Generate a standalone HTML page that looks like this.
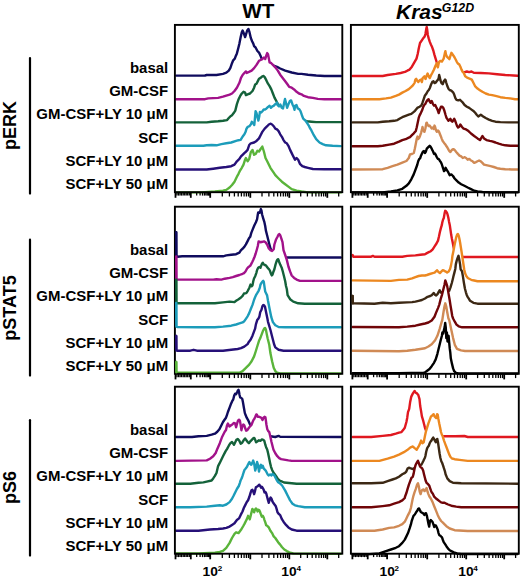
<!DOCTYPE html><html><head><meta charset="utf-8"><title>figure</title><style>html,body{margin:0;padding:0;background:#fff;width:520px;height:578px;overflow:hidden}svg{display:block}text{font-family:"Liberation Sans", sans-serif;font-weight:bold;fill:#000}</style></head><body>
<svg width="520" height="578" viewBox="0 0 520 578">
<text transform="translate(258.3,18.3) scale(1.045,1)" font-size="19.75" text-anchor="middle">WT</text>
<text transform="translate(396.0,18.5) scale(1.05,1)" font-size="20" font-style="italic">Kras</text>
<text transform="translate(441.8,11.6) scale(1.03,1)" font-size="12" font-style="italic">G12D</text>
<line x1="30" y1="58.1" x2="30" y2="193.6" stroke="#000" stroke-width="2.2" stroke-linecap="round"/>
<text transform="translate(16.4,125.5) rotate(-90)" font-size="18" text-anchor="middle">pERK</text>
<line x1="30" y1="239.7" x2="30" y2="375.6" stroke="#000" stroke-width="2.2" stroke-linecap="round"/>
<text transform="translate(16.4,308) rotate(-90)" font-size="18" text-anchor="middle">pSTAT5</text>
<line x1="30" y1="420.2" x2="30" y2="555.6" stroke="#000" stroke-width="2.2" stroke-linecap="round"/>
<text transform="translate(16.4,487.5) rotate(-90)" font-size="18" text-anchor="middle">pS6</text>
<text transform="translate(168.2,72.8) scale(1.07,1)" font-size="14" text-anchor="end">basal</text>
<text transform="translate(168.2,96.1) scale(1.07,1)" font-size="14" text-anchor="end">GM-CSF</text>
<text transform="translate(168.2,119.4) scale(1.07,1)" font-size="14" text-anchor="end">GM-CSF+LY 10 μM</text>
<text transform="translate(168.2,142.7) scale(1.07,1)" font-size="14" text-anchor="end">SCF</text>
<text transform="translate(168.2,166.0) scale(1.07,1)" font-size="14" text-anchor="end">SCF+LY 10 μM</text>
<text transform="translate(168.2,189.3) scale(1.07,1)" font-size="14" text-anchor="end">SCF+LY 50 μM</text>
<text transform="translate(168.2,254.8) scale(1.07,1)" font-size="14" text-anchor="end">basal</text>
<text transform="translate(168.2,278.1) scale(1.07,1)" font-size="14" text-anchor="end">GM-CSF</text>
<text transform="translate(168.2,301.4) scale(1.07,1)" font-size="14" text-anchor="end">GM-CSF+LY 10 μM</text>
<text transform="translate(168.2,324.7) scale(1.07,1)" font-size="14" text-anchor="end">SCF</text>
<text transform="translate(168.2,348.0) scale(1.07,1)" font-size="14" text-anchor="end">SCF+LY 10 μM</text>
<text transform="translate(168.2,371.3) scale(1.07,1)" font-size="14" text-anchor="end">SCF+LY 50 μM</text>
<text transform="translate(168.2,434.8) scale(1.07,1)" font-size="14" text-anchor="end">basal</text>
<text transform="translate(168.2,458.1) scale(1.07,1)" font-size="14" text-anchor="end">GM-CSF</text>
<text transform="translate(168.2,481.4) scale(1.07,1)" font-size="14" text-anchor="end">GM-CSF+LY 10 μM</text>
<text transform="translate(168.2,504.7) scale(1.07,1)" font-size="14" text-anchor="end">SCF</text>
<text transform="translate(168.2,528.0) scale(1.07,1)" font-size="14" text-anchor="end">SCF+LY 10 μM</text>
<text transform="translate(168.2,551.3) scale(1.07,1)" font-size="14" text-anchor="end">SCF+LY 50 μM</text>
<g transform="translate(174,24)" stroke-width="2.4" stroke-linejoin="round" stroke-linecap="round"><path d="M2.2,51.6 L16.3,51.6 L31,51.5 L32.7,51 L42.5,51 L49,49.9 L52.3,48.7 L54.8,46.6 L56.4,43.8 L58,39.2 L59.2,36.3 L60.8,34.7 L61.8,31.9 L62.9,29.4 L64.2,24.5 L65.4,19.6 L66.7,13.1 L67.8,8.2 L68.6,6.5 L70,9.8 L71.1,13.1 L71.9,10.6 L73.2,6.5 L74.4,4.9 L75.5,8.2 L76.8,13.9 L78.1,17.2 L79.3,19.6 L80.1,22.1 L81.7,23.7 L83.4,27 L85,28.6 L86.6,31.9 L87.5,34.3 L92,37 L96,40 L99.7,41.7 L103,42.8 L106.2,44.5 L111.2,46.6 L117.7,48.5 L124.2,49.9 L127.5,49.9 L134,50.7 L142.2,51.5 L150.4,52 L166.8,52 L166.8,52.8 L2.2,52.8 Z" fill="#fff"/><path d="M2.2,51.6 L16.3,51.6 L31,51.5 L32.7,51 L42.5,51 L49,49.9 L52.3,48.7 L54.8,46.6 L56.4,43.8 L58,39.2 L59.2,36.3 L60.8,34.7 L61.8,31.9 L62.9,29.4 L64.2,24.5 L65.4,19.6 L66.7,13.1 L67.8,8.2 L68.6,6.5 L70,9.8 L71.1,13.1 L71.9,10.6 L73.2,6.5 L74.4,4.9 L75.5,8.2 L76.8,13.9 L78.1,17.2 L79.3,19.6 L80.1,22.1 L81.7,23.7 L83.4,27 L85,28.6 L86.6,31.9 L87.5,34.3 L92,37 L96,40 L99.7,41.7 L103,42.8 L106.2,44.5 L111.2,46.6 L117.7,48.5 L124.2,49.9 L127.5,49.9 L134,50.7 L142.2,51.5 L150.4,52 L166.8,52" fill="none" stroke="#100c5e"/><path d="M2.2,75.2 L31,75.2 L34.3,74.4 L44.1,73.9 L49,72.7 L52.3,71.6 L55.6,70.6 L58,69.5 L60.5,67 L62.9,63.7 L65.4,58.8 L67,53.9 L68.6,51 L70.3,49 L71.9,47.4 L72.7,49 L74.4,48.2 L76,47.4 L77.6,46.6 L80.1,44.1 L82.5,40.9 L85,36.8 L86.6,36 L88.3,35.1 L89.9,33.5 L91.2,35.1 L92.4,31.1 L93.2,29.1 L94,30.2 L94.8,34.3 L95.6,38.4 L97.3,39.2 L98.9,40.9 L101.3,43.3 L103.8,46.6 L106.2,50.7 L108.7,53.9 L111.2,57.2 L113.6,60.5 L115.2,62.9 L117.7,63.7 L120.1,65.4 L122.6,67.8 L125,69.5 L127.5,70.3 L129.9,71.9 L134,73.2 L138.9,73.9 L143.8,74.9 L150.4,75.2 L166.8,75.2 L166.8,76 L2.2,76 Z" fill="#fff"/><path d="M2.2,75.2 L31,75.2 L34.3,74.4 L44.1,73.9 L49,72.7 L52.3,71.6 L55.6,70.6 L58,69.5 L60.5,67 L62.9,63.7 L65.4,58.8 L67,53.9 L68.6,51 L70.3,49 L71.9,47.4 L72.7,49 L74.4,48.2 L76,47.4 L77.6,46.6 L80.1,44.1 L82.5,40.9 L85,36.8 L86.6,36 L88.3,35.1 L89.9,33.5 L91.2,35.1 L92.4,31.1 L93.2,29.1 L94,30.2 L94.8,34.3 L95.6,38.4 L97.3,39.2 L98.9,40.9 L101.3,43.3 L103.8,46.6 L106.2,50.7 L108.7,53.9 L111.2,57.2 L113.6,60.5 L115.2,62.9 L117.7,63.7 L120.1,65.4 L122.6,67.8 L125,69.5 L127.5,70.3 L129.9,71.9 L134,73.2 L138.9,73.9 L143.8,74.9 L150.4,75.2 L166.8,75.2" fill="none" stroke="#a2128a"/><path d="M2.2,98.4 L32.7,98.4 L37.6,97.7 L44.1,97.3 L49,96.8 L53.1,96.1 L54.8,94 L56.4,92.4 L58,91.2 L59.7,89.1 L61.3,86.6 L62.9,80.1 L64.6,75.2 L66.2,71.9 L67.8,69.5 L69.5,67.8 L71.1,68.6 L71.9,71.1 L73.6,70.3 L76,69.5 L78.5,67 L80.1,63.7 L81.2,60.5 L82.5,59.7 L84.2,56.4 L85,54.8 L86.6,53.9 L88.3,52.3 L89.6,52 L90.7,53.1 L92.4,56.4 L94,59.7 L95.6,62.1 L97.3,65.4 L98.9,69.5 L100.5,73.6 L102.2,76.8 L103.8,80.1 L107,86 L112,91 L118,94 L125,96 L133.2,97.3 L137.3,97.7 L142.2,98.1 L150.4,98.1 L166.8,98.1 L166.8,98.9 L2.2,98.9 Z" fill="#fff"/><path d="M2.2,98.4 L32.7,98.4 L37.6,97.7 L44.1,97.3 L49,96.8 L53.1,96.1 L54.8,94 L56.4,92.4 L58,91.2 L59.7,89.1 L61.3,86.6 L62.9,80.1 L64.6,75.2 L66.2,71.9 L67.8,69.5 L69.5,67.8 L71.1,68.6 L71.9,71.1 L73.6,70.3 L76,69.5 L78.5,67 L80.1,63.7 L81.2,60.5 L82.5,59.7 L84.2,56.4 L85,54.8 L86.6,53.9 L88.3,52.3 L89.6,52 L90.7,53.1 L92.4,56.4 L94,59.7 L95.6,62.1 L97.3,65.4 L98.9,69.5 L100.5,73.6 L102.2,76.8 L103.8,80.1 L107,86 L112,91 L118,94 L125,96 L133.2,97.3 L137.3,97.7 L142.2,98.1 L150.4,98.1 L166.8,98.1" fill="none" stroke="#14623a"/><path d="M2.2,121.8 L29.4,121.8 L32.7,121.3 L37.6,121 L42.5,121.3 L47.4,120.1 L52.3,119.3 L57.2,118.5 L62.1,116.9 L64.5,116.2 L66.6,115.9 L68.5,112.8 L70.4,110.3 L71.6,107.8 L72.5,104.7 L73.8,102.8 L75.4,102.2 L76.9,100.3 L77.8,97.8 L79.1,99.1 L80.3,101 L81,93.5 L81.6,87.2 L82.5,89.1 L83.5,93.5 L84.4,96.6 L85.3,92.2 L85.9,87.9 L87.2,88.5 L88.4,87.2 L89.7,85.5 L91,85.5 L92.3,84.7 L94.1,82.9 L95.6,81.8 L96.9,83.8 L98.3,82.4 L99.6,81.8 L101,80.4 L102.3,79.7 L103,78.4 L103.6,81.1 L105,82.4 L106.3,80.4 L107.7,83.8 L109,84.5 L110.4,77.7 L111,75 L111.7,77.7 L113.1,83.8 L114.4,80.4 L115.8,77.1 L117.1,76.4 L118.5,80.4 L119.8,83.1 L120.5,85.8 L121.1,81.8 L122.5,81.1 L123.8,84.5 L125.2,85.1 L126.5,87.1 L127.9,91.2 L129.2,94.6 L130.6,95.9 L131.9,97.3 L133.3,99.3 L134.6,101.3 L135.9,104 L137.3,106.2 L139.8,111.2 L142.2,115.2 L145.5,118.5 L148.7,120.1 L152,121.3 L158.6,121.8 L166.8,122.1 L166.8,122.9 L2.2,122.9 Z" fill="#fff"/><path d="M2.2,121.8 L29.4,121.8 L32.7,121.3 L37.6,121 L42.5,121.3 L47.4,120.1 L52.3,119.3 L57.2,118.5 L62.1,116.9 L64.5,116.2 L66.6,115.9 L68.5,112.8 L70.4,110.3 L71.6,107.8 L72.5,104.7 L73.8,102.8 L75.4,102.2 L76.9,100.3 L77.8,97.8 L79.1,99.1 L80.3,101 L81,93.5 L81.6,87.2 L82.5,89.1 L83.5,93.5 L84.4,96.6 L85.3,92.2 L85.9,87.9 L87.2,88.5 L88.4,87.2 L89.7,85.5 L91,85.5 L92.3,84.7 L94.1,82.9 L95.6,81.8 L96.9,83.8 L98.3,82.4 L99.6,81.8 L101,80.4 L102.3,79.7 L103,78.4 L103.6,81.1 L105,82.4 L106.3,80.4 L107.7,83.8 L109,84.5 L110.4,77.7 L111,75 L111.7,77.7 L113.1,83.8 L114.4,80.4 L115.8,77.1 L117.1,76.4 L118.5,80.4 L119.8,83.1 L120.5,85.8 L121.1,81.8 L122.5,81.1 L123.8,84.5 L125.2,85.1 L126.5,87.1 L127.9,91.2 L129.2,94.6 L130.6,95.9 L131.9,97.3 L133.3,99.3 L134.6,101.3 L135.9,104 L137.3,106.2 L139.8,111.2 L142.2,115.2 L145.5,118.5 L148.7,120.1 L152,121.3 L158.6,121.8 L166.8,122.1" fill="none" stroke="#1c9cba"/><path d="M2.2,145.5 L32.7,145.5 L39.2,144.7 L45.8,143.8 L52.3,143 L57.2,142.2 L60.5,140.6 L62.9,137.3 L65.4,134.9 L67,132.4 L68.6,130.8 L70.3,129.1 L71.9,127.8 L73.6,125.9 L75.2,121 L76.8,119.3 L80.1,118.5 L82.5,116.9 L85,114.4 L86.6,111.2 L88.3,107.9 L90.7,104.6 L93.2,102.2 L94.8,100.5 L96.4,99.7 L98.1,100.5 L99.7,102.2 L101.3,104.6 L103,105.4 L104.6,107.1 L106.2,110.3 L107.9,112.8 L109.5,116.1 L111.2,118.5 L112.8,119.3 L114.4,121.8 L116.1,125.9 L117.7,129.1 L119.3,132.4 L121,135.7 L122.6,134 L124.2,135.7 L125.9,139.8 L128.3,142.2 L130.8,143 L134,143.8 L138.9,145 L150.4,145.2 L166.8,145.2 L166.8,146 L2.2,146 Z" fill="#fff"/><path d="M2.2,145.5 L32.7,145.5 L39.2,144.7 L45.8,143.8 L52.3,143 L57.2,142.2 L60.5,140.6 L62.9,137.3 L65.4,134.9 L67,132.4 L68.6,130.8 L70.3,129.1 L71.9,127.8 L73.6,125.9 L75.2,121 L76.8,119.3 L80.1,118.5 L82.5,116.9 L85,114.4 L86.6,111.2 L88.3,107.9 L90.7,104.6 L93.2,102.2 L94.8,100.5 L96.4,99.7 L98.1,100.5 L99.7,102.2 L101.3,104.6 L103,105.4 L104.6,107.1 L106.2,110.3 L107.9,112.8 L109.5,116.1 L111.2,118.5 L112.8,119.3 L114.4,121.8 L116.1,125.9 L117.7,129.1 L119.3,132.4 L121,135.7 L122.6,134 L124.2,135.7 L125.9,139.8 L128.3,142.2 L130.8,143 L134,143.8 L138.9,145 L150.4,145.2 L166.8,145.2" fill="none" stroke="#261078"/><path d="M2.2,168.4 L27.8,168.4 L40.9,167.5 L49,166.7 L52.3,165.9 L55.6,163.5 L58,161 L60.5,157.7 L62.9,152.8 L64.6,149.6 L66.2,146.3 L67.8,143.8 L69.5,140.6 L71.1,135.7 L71.9,134 L73.6,137.3 L75.2,134.9 L76.8,128.3 L78.5,125.9 L80.1,130.8 L81.7,130 L83.4,126.7 L85,127.5 L86.6,125 L88.3,122.6 L89.9,127.5 L91.5,134 L93.2,137.3 L94.8,140.6 L96.4,143.8 L98.1,146.3 L99.7,148.7 L101.3,151.2 L104.6,154.5 L107.9,157.7 L111.2,160.2 L114.4,162.6 L117.7,165.1 L122.6,166.7 L127.5,167.5 L134,168.4 L166.8,168.4 L166.8,169.2 L2.2,169.2 Z" fill="#fff"/><path d="M2.2,168.4 L27.8,168.4 L40.9,167.5 L49,166.7 L52.3,165.9 L55.6,163.5 L58,161 L60.5,157.7 L62.9,152.8 L64.6,149.6 L66.2,146.3 L67.8,143.8 L69.5,140.6 L71.1,135.7 L71.9,134 L73.6,137.3 L75.2,134.9 L76.8,128.3 L78.5,125.9 L80.1,130.8 L81.7,130 L83.4,126.7 L85,127.5 L86.6,125 L88.3,122.6 L89.9,127.5 L91.5,134 L93.2,137.3 L94.8,140.6 L96.4,143.8 L98.1,146.3 L99.7,148.7 L101.3,151.2 L104.6,154.5 L107.9,157.7 L111.2,160.2 L114.4,162.6 L117.7,165.1 L122.6,166.7 L127.5,167.5 L134,168.4 L166.8,168.4" fill="none" stroke="#5ab43a"/></g>
<rect x="174.9" y="24.9" width="167.4" height="167.3" fill="none" stroke="#000" stroke-width="1.9"/>
<g stroke="#000" stroke-width="1.3"><line x1="175.5" y1="192.2" x2="175.5" y2="197.8" stroke-width="1.8"/><line x1="190.8" y1="192.2" x2="190.8" y2="197.8" stroke-width="1.8"/><line x1="210.2" y1="192.2" x2="210.2" y2="197.8" stroke-width="1.8"/><line x1="250.3" y1="192.2" x2="250.3" y2="197.8" stroke-width="1.8"/><line x1="289.3" y1="192.2" x2="289.3" y2="197.8" stroke-width="1.8"/><line x1="327.3" y1="192.2" x2="327.3" y2="197.8" stroke-width="1.8"/><line x1="222.3" y1="192.2" x2="222.3" y2="196.5"/><line x1="229.4" y1="192.2" x2="229.4" y2="196.5"/><line x1="234.4" y1="192.2" x2="234.4" y2="196.5"/><line x1="238.2" y1="192.2" x2="238.2" y2="196.5"/><line x1="241.4" y1="192.2" x2="241.4" y2="196.5"/><line x1="244.1" y1="192.2" x2="244.1" y2="196.5"/><line x1="246.4" y1="192.2" x2="246.4" y2="196.5"/><line x1="248.5" y1="192.2" x2="248.5" y2="196.5"/><line x1="262.0" y1="192.2" x2="262.0" y2="196.5"/><line x1="268.9" y1="192.2" x2="268.9" y2="196.5"/><line x1="273.8" y1="192.2" x2="273.8" y2="196.5"/><line x1="277.6" y1="192.2" x2="277.6" y2="196.5"/><line x1="280.6" y1="192.2" x2="280.6" y2="196.5"/><line x1="283.3" y1="192.2" x2="283.3" y2="196.5"/><line x1="285.5" y1="192.2" x2="285.5" y2="196.5"/><line x1="287.5" y1="192.2" x2="287.5" y2="196.5"/><line x1="300.7" y1="192.2" x2="300.7" y2="196.5"/><line x1="307.4" y1="192.2" x2="307.4" y2="196.5"/><line x1="312.2" y1="192.2" x2="312.2" y2="196.5"/><line x1="315.9" y1="192.2" x2="315.9" y2="196.5"/><line x1="318.9" y1="192.2" x2="318.9" y2="196.5"/><line x1="321.4" y1="192.2" x2="321.4" y2="196.5"/><line x1="323.6" y1="192.2" x2="323.6" y2="196.5"/><line x1="325.6" y1="192.2" x2="325.6" y2="196.5"/><line x1="338.7" y1="192.2" x2="338.7" y2="196.5"/><line x1="177.0" y1="192.2" x2="177.0" y2="195.6"/><line x1="178.6" y1="192.2" x2="178.6" y2="195.6"/><line x1="180.1" y1="192.2" x2="180.1" y2="195.6"/><line x1="181.6" y1="192.2" x2="181.6" y2="195.6"/><line x1="183.2" y1="192.2" x2="183.2" y2="195.6"/><line x1="184.7" y1="192.2" x2="184.7" y2="195.6"/><line x1="186.2" y1="192.2" x2="186.2" y2="195.6"/><line x1="187.7" y1="192.2" x2="187.7" y2="195.6"/><line x1="189.3" y1="192.2" x2="189.3" y2="195.6"/><line x1="196.7" y1="192.2" x2="196.7" y2="195.6"/><line x1="200.1" y1="192.2" x2="200.1" y2="195.6"/><line x1="202.5" y1="192.2" x2="202.5" y2="195.6"/><line x1="204.4" y1="192.2" x2="204.4" y2="195.6"/><line x1="205.9" y1="192.2" x2="205.9" y2="195.6"/><line x1="207.2" y1="192.2" x2="207.2" y2="195.6"/><line x1="208.4" y1="192.2" x2="208.4" y2="195.6"/><line x1="209.4" y1="192.2" x2="209.4" y2="195.6"/></g>
<g transform="translate(350,24)" stroke-width="2.4" stroke-linejoin="round" stroke-linecap="round"><path d="M2.6,52 L32.7,52 L37.6,51 L45.8,49.9 L50.7,49 L53.9,48.2 L55,47.9 L57.3,46.7 L59.6,45.6 L61.9,42.7 L64.2,38.7 L66.5,34.6 L67.7,30 L68.8,24.2 L70,19 L71.2,17.3 L72.3,15.6 L73.5,13.8 L74.6,12.7 L75.5,9.8 L76.3,4.6 L76.7,2.9 L77.2,5.8 L77.8,11 L78.7,14.4 L79.8,17.9 L81,20.8 L82.1,23.1 L83.3,26.5 L84.4,30.6 L85.6,34.6 L86.7,38.1 L87.9,41.5 L95,46 L105,48 L112.9,48.7 L114.6,48.1 L116.9,47.5 L119.2,48.1 L121.5,47.5 L123.8,48.7 L130.8,49 L138.9,49.4 L147.1,50.2 L155.3,51 L163.5,51.5 L167.6,51.8 L167.6,52.6 L2.6,52.6 Z" fill="#fff"/><path d="M2.6,52 L32.7,52 L37.6,51 L45.8,49.9 L50.7,49 L53.9,48.2 L55,47.9 L57.3,46.7 L59.6,45.6 L61.9,42.7 L64.2,38.7 L66.5,34.6 L67.7,30 L68.8,24.2 L70,19 L71.2,17.3 L72.3,15.6 L73.5,13.8 L74.6,12.7 L75.5,9.8 L76.3,4.6 L76.7,2.9 L77.2,5.8 L77.8,11 L78.7,14.4 L79.8,17.9 L81,20.8 L82.1,23.1 L83.3,26.5 L84.4,30.6 L85.6,34.6 L86.7,38.1 L87.9,41.5 L95,46 L105,48 L112.9,48.7 L114.6,48.1 L116.9,47.5 L119.2,48.1 L121.5,47.5 L123.8,48.7 L130.8,49 L138.9,49.4 L147.1,50.2 L155.3,51 L163.5,51.5 L167.6,51.8" fill="none" stroke="#e01820"/><path d="M2.6,75.2 L29.4,75.2 L36,74.4 L40.9,73.6 L45.8,71.9 L49,70.6 L52.3,68.6 L55.6,67 L58.8,65.1 L61.3,62.9 L62.9,61.3 L64.6,58.8 L65.4,55.6 L66.2,54.8 L67,56.4 L68.3,58 L69.5,56.4 L71.1,55.6 L71.9,58 L72.7,54 L74.4,52.3 L75.5,55 L76.5,52 L77.6,49.5 L78.8,52.5 L79.8,54 L80.9,51.5 L82.5,48.5 L84,45.5 L85.6,41.5 L86.7,39.2 L87.9,43.3 L89,38.1 L90.2,36.9 L91.9,37.5 L93.7,34.6 L94.8,29.4 L95.4,27.1 L96,30.6 L97.1,32.9 L98.3,34 L99.4,35.2 L100.6,31.2 L101.4,28.8 L102.3,30 L103.5,31.7 L104.6,33.5 L105.8,35.8 L106.9,38.1 L108.1,39.8 L109.2,40.4 L110.4,42.7 L111.5,45.6 L112.7,47.9 L113.8,49 L115.2,52.3 L117.7,53.9 L120.1,54.8 L121.8,55.6 L123.4,58.8 L125,62.1 L127.5,64.6 L129.9,66.2 L132.4,67.8 L135.7,69.5 L138.9,70.6 L142.2,71.1 L145.5,71.9 L150.4,73.2 L155.3,73.9 L160.2,74.4 L165.1,75.2 L167.6,75.2 L167.6,76 L2.6,76 Z" fill="#fff"/><path d="M2.6,75.2 L29.4,75.2 L36,74.4 L40.9,73.6 L45.8,71.9 L49,70.6 L52.3,68.6 L55.6,67 L58.8,65.1 L61.3,62.9 L62.9,61.3 L64.6,58.8 L65.4,55.6 L66.2,54.8 L67,56.4 L68.3,58 L69.5,56.4 L71.1,55.6 L71.9,58 L72.7,54 L74.4,52.3 L75.5,55 L76.5,52 L77.6,49.5 L78.8,52.5 L79.8,54 L80.9,51.5 L82.5,48.5 L84,45.5 L85.6,41.5 L86.7,39.2 L87.9,43.3 L89,38.1 L90.2,36.9 L91.9,37.5 L93.7,34.6 L94.8,29.4 L95.4,27.1 L96,30.6 L97.1,32.9 L98.3,34 L99.4,35.2 L100.6,31.2 L101.4,28.8 L102.3,30 L103.5,31.7 L104.6,33.5 L105.8,35.8 L106.9,38.1 L108.1,39.8 L109.2,40.4 L110.4,42.7 L111.5,45.6 L112.7,47.9 L113.8,49 L115.2,52.3 L117.7,53.9 L120.1,54.8 L121.8,55.6 L123.4,58.8 L125,62.1 L127.5,64.6 L129.9,66.2 L132.4,67.8 L135.7,69.5 L138.9,70.6 L142.2,71.1 L145.5,71.9 L150.4,73.2 L155.3,73.9 L160.2,74.4 L165.1,75.2 L167.6,75.2" fill="none" stroke="#ec8820"/><path d="M2.6,98.4 L27.8,98.4 L32.7,97.7 L39.2,97.3 L44.1,96.8 L47.4,96.1 L49.9,94.5 L52.3,93.2 L55.6,91.9 L58.8,90.7 L61.3,89.9 L62.9,88.6 L65,86.8 L67.3,83.9 L69.6,82.7 L71.3,81.6 L72.5,78.7 L73.7,75.2 L74.8,71.8 L76.5,69.5 L77.7,67.2 L78.8,66 L80,63.7 L81.2,60.2 L82.3,57.9 L83.5,57.3 L84.6,59.1 L85.8,58.5 L86.9,56.8 L88.1,55.6 L88.7,53.9 L89.2,51 L89.8,53.3 L90.4,56.2 L91.5,59.1 L92.7,60.2 L93.8,57.3 L95,55.6 L95.6,56.2 L96.2,58.5 L97.3,62 L98.5,64.8 L99.6,66 L101.3,66.6 L103.1,68.3 L104.2,70.6 L105.4,74.1 L106.5,75.8 L108.3,76.4 L110,75.8 L111.2,77 L112.9,78.7 L114.6,81 L116.9,82.7 L119.2,83.9 L121.5,85.6 L123.8,87.3 L125,88.5 L126.7,90.7 L128.3,92.4 L130.8,90.7 L133.2,92.4 L135.7,94 L138.9,95.6 L142.2,96.8 L145.5,97.7 L150.4,98.1 L158.6,98.4 L167.6,98.4 L167.6,99.2 L2.6,99.2 Z" fill="#fff"/><path d="M2.6,98.4 L27.8,98.4 L32.7,97.7 L39.2,97.3 L44.1,96.8 L47.4,96.1 L49.9,94.5 L52.3,93.2 L55.6,91.9 L58.8,90.7 L61.3,89.9 L62.9,88.6 L65,86.8 L67.3,83.9 L69.6,82.7 L71.3,81.6 L72.5,78.7 L73.7,75.2 L74.8,71.8 L76.5,69.5 L77.7,67.2 L78.8,66 L80,63.7 L81.2,60.2 L82.3,57.9 L83.5,57.3 L84.6,59.1 L85.8,58.5 L86.9,56.8 L88.1,55.6 L88.7,53.9 L89.2,51 L89.8,53.3 L90.4,56.2 L91.5,59.1 L92.7,60.2 L93.8,57.3 L95,55.6 L95.6,56.2 L96.2,58.5 L97.3,62 L98.5,64.8 L99.6,66 L101.3,66.6 L103.1,68.3 L104.2,70.6 L105.4,74.1 L106.5,75.8 L108.3,76.4 L110,75.8 L111.2,77 L112.9,78.7 L114.6,81 L116.9,82.7 L119.2,83.9 L121.5,85.6 L123.8,87.3 L125,88.5 L126.7,90.7 L128.3,92.4 L130.8,90.7 L133.2,92.4 L135.7,94 L138.9,95.6 L142.2,96.8 L145.5,97.7 L150.4,98.1 L158.6,98.4 L167.6,98.4" fill="none" stroke="#3c2814"/><path d="M2.6,122.3 L27.8,122.3 L32.7,121.8 L39.2,120.6 L44.1,119.7 L49,117.7 L52.3,116.1 L55.6,115.2 L58.8,113.6 L60,113.1 L61.9,111.2 L63.8,109.3 L65.8,106.9 L66.7,103.5 L67.7,98.7 L68.7,93.9 L69.6,91.4 L70.8,89.1 L71.9,86.8 L73.1,83.3 L74.2,81 L75.4,79.8 L76.5,77.5 L77.7,75.8 L78.6,75.2 L79.4,77 L80.6,78.7 L81.7,77 L82.9,79.8 L84,81.6 L85.2,81 L86.3,83.3 L87.5,85.6 L88.7,89.1 L89.8,85.6 L91,82.7 L92.1,82.7 L93.3,83.9 L94.4,86.8 L95.6,91 L96.5,93.9 L97.5,95.3 L98.5,96.8 L99.4,95.8 L100.4,94.8 L101.3,96.8 L102.3,97.7 L103.3,96.3 L104.2,94.8 L105.2,96.8 L106.2,99.7 L107.1,102.1 L108.1,103.5 L109,103 L110.3,100.5 L112,103 L113.6,104.6 L116.1,105.4 L118.5,107.1 L121,109.5 L124.2,112 L127.5,114.4 L130,116.1 L132.4,112 L134,114.4 L136.5,116.1 L139.8,116.9 L142.2,117.4 L145.5,118.5 L148.7,119.7 L152,120.6 L155.3,121.3 L160.2,121.8 L167.6,121.8 L167.6,122.6 L2.6,122.6 Z" fill="#fff"/><path d="M2.6,122.3 L27.8,122.3 L32.7,121.8 L39.2,120.6 L44.1,119.7 L49,117.7 L52.3,116.1 L55.6,115.2 L58.8,113.6 L60,113.1 L61.9,111.2 L63.8,109.3 L65.8,106.9 L66.7,103.5 L67.7,98.7 L68.7,93.9 L69.6,91.4 L70.8,89.1 L71.9,86.8 L73.1,83.3 L74.2,81 L75.4,79.8 L76.5,77.5 L77.7,75.8 L78.6,75.2 L79.4,77 L80.6,78.7 L81.7,77 L82.9,79.8 L84,81.6 L85.2,81 L86.3,83.3 L87.5,85.6 L88.7,89.1 L89.8,85.6 L91,82.7 L92.1,82.7 L93.3,83.9 L94.4,86.8 L95.6,91 L96.5,93.9 L97.5,95.3 L98.5,96.8 L99.4,95.8 L100.4,94.8 L101.3,96.8 L102.3,97.7 L103.3,96.3 L104.2,94.8 L105.2,96.8 L106.2,99.7 L107.1,102.1 L108.1,103.5 L109,103 L110.3,100.5 L112,103 L113.6,104.6 L116.1,105.4 L118.5,107.1 L121,109.5 L124.2,112 L127.5,114.4 L130,116.1 L132.4,112 L134,114.4 L136.5,116.1 L139.8,116.9 L142.2,117.4 L145.5,118.5 L148.7,119.7 L152,120.6 L155.3,121.3 L160.2,121.8 L167.6,121.8" fill="none" stroke="#700508"/><path d="M2.6,145.5 L32.7,145.2 L37.6,143.8 L42.5,142.2 L47.4,140.6 L52.3,138.6 L56.4,137 L58.8,134 L60,130.4 L61.9,130 L63.8,129 L64.8,124.7 L65.8,119.8 L66.7,115 L67.5,112.6 L68.2,115 L69.1,114.1 L70.1,111.7 L71.1,108.8 L72,105.4 L72.5,103 L73.5,106.4 L74.4,107.8 L75.4,104.5 L76.3,99.2 L76.8,98.7 L77.8,101.1 L78.8,102.1 L79.7,101.6 L80.7,103 L81.6,104.5 L82.6,103.5 L83.6,104.9 L84.5,101.6 L85,102.5 L86,106.4 L86.9,107.8 L87.9,106.4 L88.8,107.3 L89.8,109.8 L90.8,112.2 L91.7,114.6 L92.7,117 L94.1,118.9 L95.6,120.8 L96.5,122.3 L97.5,123.7 L98.5,125.6 L99.4,127.1 L100.4,128 L101.3,126.6 L102.3,125.6 L103.3,125.1 L104.2,125.6 L105.2,126.6 L106.2,128 L107.9,129.9 L109.5,131.6 L111.2,132.4 L112.8,134 L114.4,133.2 L116.1,134 L117.7,135.7 L119.3,134.9 L121,136.5 L122.6,137.3 L124.2,138.9 L125.9,138.1 L127.5,137.3 L129.1,136.5 L130.8,137.3 L132.4,138.9 L134,140.6 L137.3,141.4 L140.6,142.2 L143.8,143 L147.1,144.2 L150.4,144.7 L155.3,145.2 L161.8,145.5 L167.6,145.5 L167.6,146.3 L2.6,146.3 Z" fill="#fff"/><path d="M2.6,145.5 L32.7,145.2 L37.6,143.8 L42.5,142.2 L47.4,140.6 L52.3,138.6 L56.4,137 L58.8,134 L60,130.4 L61.9,130 L63.8,129 L64.8,124.7 L65.8,119.8 L66.7,115 L67.5,112.6 L68.2,115 L69.1,114.1 L70.1,111.7 L71.1,108.8 L72,105.4 L72.5,103 L73.5,106.4 L74.4,107.8 L75.4,104.5 L76.3,99.2 L76.8,98.7 L77.8,101.1 L78.8,102.1 L79.7,101.6 L80.7,103 L81.6,104.5 L82.6,103.5 L83.6,104.9 L84.5,101.6 L85,102.5 L86,106.4 L86.9,107.8 L87.9,106.4 L88.8,107.3 L89.8,109.8 L90.8,112.2 L91.7,114.6 L92.7,117 L94.1,118.9 L95.6,120.8 L96.5,122.3 L97.5,123.7 L98.5,125.6 L99.4,127.1 L100.4,128 L101.3,126.6 L102.3,125.6 L103.3,125.1 L104.2,125.6 L105.2,126.6 L106.2,128 L107.9,129.9 L109.5,131.6 L111.2,132.4 L112.8,134 L114.4,133.2 L116.1,134 L117.7,135.7 L119.3,134.9 L121,136.5 L122.6,137.3 L124.2,138.9 L125.9,138.1 L127.5,137.3 L129.1,136.5 L130.8,137.3 L132.4,138.9 L134,140.6 L137.3,141.4 L140.6,142.2 L143.8,143 L147.1,144.2 L150.4,144.7 L155.3,145.2 L161.8,145.5 L167.6,145.5" fill="none" stroke="#d08a55"/><path d="M2.6,168.4 L32.7,168.4 L40.9,167.5 L47.4,166.4 L52.3,164.8 L56.4,161.8 L58.8,159.4 L61.3,155.3 L63.7,150.4 L66.2,143.8 L67.2,141 L68.2,137.2 L69.1,135.2 L70.1,134.3 L71.1,131.4 L72,129.5 L73,127.5 L73.9,127.1 L74.9,129 L75.9,127.5 L76.8,124.7 L77.8,123.7 L78.8,122.7 L79.7,121.8 L80.2,122.3 L81.2,123.7 L82.1,125.6 L83.1,127.5 L84,129.9 L85,129.5 L86,131.4 L86.9,133.3 L87.9,134.8 L88.8,135.2 L89.8,136.7 L90.8,138.1 L91.7,140 L93.2,144.7 L94,147.1 L94.8,146.3 L95.6,143.8 L96.4,145.5 L98.1,147.9 L99.7,151.2 L101.3,150.4 L103,152 L104.6,154.5 L106.2,156.1 L108.7,158.6 L111.2,160.2 L114.4,161.8 L117.7,163.5 L121,165.1 L124.2,166.7 L127.5,167.5 L132.4,168 L140.6,168.4 L167.6,168.4 L167.6,169.2 L2.6,169.2 Z" fill="#fff"/><path d="M2.6,168.4 L32.7,168.4 L40.9,167.5 L47.4,166.4 L52.3,164.8 L56.4,161.8 L58.8,159.4 L61.3,155.3 L63.7,150.4 L66.2,143.8 L67.2,141 L68.2,137.2 L69.1,135.2 L70.1,134.3 L71.1,131.4 L72,129.5 L73,127.5 L73.9,127.1 L74.9,129 L75.9,127.5 L76.8,124.7 L77.8,123.7 L78.8,122.7 L79.7,121.8 L80.2,122.3 L81.2,123.7 L82.1,125.6 L83.1,127.5 L84,129.9 L85,129.5 L86,131.4 L86.9,133.3 L87.9,134.8 L88.8,135.2 L89.8,136.7 L90.8,138.1 L91.7,140 L93.2,144.7 L94,147.1 L94.8,146.3 L95.6,143.8 L96.4,145.5 L98.1,147.9 L99.7,151.2 L101.3,150.4 L103,152 L104.6,154.5 L106.2,156.1 L108.7,158.6 L111.2,160.2 L114.4,161.8 L117.7,163.5 L121,165.1 L124.2,166.7 L127.5,167.5 L132.4,168 L140.6,168.4 L167.6,168.4" fill="none" stroke="#000000"/></g>
<rect x="350.9" y="24.9" width="167.9" height="167.3" fill="none" stroke="#000" stroke-width="1.9"/>
<g stroke="#000" stroke-width="1.3"><line x1="352.4" y1="192.2" x2="352.4" y2="197.8" stroke-width="1.8"/><line x1="367.7" y1="192.2" x2="367.7" y2="197.8" stroke-width="1.8"/><line x1="387.1" y1="192.2" x2="387.1" y2="197.8" stroke-width="1.8"/><line x1="427.2" y1="192.2" x2="427.2" y2="197.8" stroke-width="1.8"/><line x1="466.2" y1="192.2" x2="466.2" y2="197.8" stroke-width="1.8"/><line x1="504.2" y1="192.2" x2="504.2" y2="197.8" stroke-width="1.8"/><line x1="399.2" y1="192.2" x2="399.2" y2="196.5"/><line x1="406.3" y1="192.2" x2="406.3" y2="196.5"/><line x1="411.3" y1="192.2" x2="411.3" y2="196.5"/><line x1="415.1" y1="192.2" x2="415.1" y2="196.5"/><line x1="418.3" y1="192.2" x2="418.3" y2="196.5"/><line x1="421.0" y1="192.2" x2="421.0" y2="196.5"/><line x1="423.3" y1="192.2" x2="423.3" y2="196.5"/><line x1="425.4" y1="192.2" x2="425.4" y2="196.5"/><line x1="438.9" y1="192.2" x2="438.9" y2="196.5"/><line x1="445.8" y1="192.2" x2="445.8" y2="196.5"/><line x1="450.7" y1="192.2" x2="450.7" y2="196.5"/><line x1="454.5" y1="192.2" x2="454.5" y2="196.5"/><line x1="457.5" y1="192.2" x2="457.5" y2="196.5"/><line x1="460.2" y1="192.2" x2="460.2" y2="196.5"/><line x1="462.4" y1="192.2" x2="462.4" y2="196.5"/><line x1="464.4" y1="192.2" x2="464.4" y2="196.5"/><line x1="477.6" y1="192.2" x2="477.6" y2="196.5"/><line x1="484.3" y1="192.2" x2="484.3" y2="196.5"/><line x1="489.1" y1="192.2" x2="489.1" y2="196.5"/><line x1="492.8" y1="192.2" x2="492.8" y2="196.5"/><line x1="495.8" y1="192.2" x2="495.8" y2="196.5"/><line x1="498.3" y1="192.2" x2="498.3" y2="196.5"/><line x1="500.5" y1="192.2" x2="500.5" y2="196.5"/><line x1="502.5" y1="192.2" x2="502.5" y2="196.5"/><line x1="515.6" y1="192.2" x2="515.6" y2="196.5"/><line x1="353.9" y1="192.2" x2="353.9" y2="195.6"/><line x1="355.5" y1="192.2" x2="355.5" y2="195.6"/><line x1="357.0" y1="192.2" x2="357.0" y2="195.6"/><line x1="358.5" y1="192.2" x2="358.5" y2="195.6"/><line x1="360.1" y1="192.2" x2="360.1" y2="195.6"/><line x1="361.6" y1="192.2" x2="361.6" y2="195.6"/><line x1="363.1" y1="192.2" x2="363.1" y2="195.6"/><line x1="364.6" y1="192.2" x2="364.6" y2="195.6"/><line x1="366.2" y1="192.2" x2="366.2" y2="195.6"/><line x1="373.6" y1="192.2" x2="373.6" y2="195.6"/><line x1="377.0" y1="192.2" x2="377.0" y2="195.6"/><line x1="379.4" y1="192.2" x2="379.4" y2="195.6"/><line x1="381.3" y1="192.2" x2="381.3" y2="195.6"/><line x1="382.8" y1="192.2" x2="382.8" y2="195.6"/><line x1="384.1" y1="192.2" x2="384.1" y2="195.6"/><line x1="385.3" y1="192.2" x2="385.3" y2="195.6"/><line x1="386.3" y1="192.2" x2="386.3" y2="195.6"/></g>
<g transform="translate(174,206)" stroke-width="2.4" stroke-linejoin="round" stroke-linecap="round"><path d="M2.2,26.2 L2.3,50 L3.5,50.7 L8.2,50.3 L49,50.3 L52.3,49.4 L57.2,48.7 L62.1,48.2 L65.4,46.6 L67,44.1 L68.6,42.8 L70.3,40.9 L71.9,38.4 L73.6,35.1 L75,32.3 L76.2,30.8 L77.3,26.9 L78.8,23.1 L80.4,19.2 L81.9,16.2 L83.1,13.1 L83.8,8.5 L84.2,6.5 L85.4,6.9 L86.2,5.4 L86.9,3.1 L87.5,4.6 L88.1,8.5 L89.2,12.3 L90.4,16.2 L91.2,20 L91.9,24.6 L93.1,29.2 L94.2,33.8 L95.4,38.5 L96.5,42.5 L98,46.5 L100,49.5 L104,51 L112.8,51.5 L166.8,51.5 L166.8,52.3 L2.2,52.3 Z" fill="#fff"/><path d="M2.2,26.2 L2.3,50 L3.5,50.7 L8.2,50.3 L49,50.3 L52.3,49.4 L57.2,48.7 L62.1,48.2 L65.4,46.6 L67,44.1 L68.6,42.8 L70.3,40.9 L71.9,38.4 L73.6,35.1 L75,32.3 L76.2,30.8 L77.3,26.9 L78.8,23.1 L80.4,19.2 L81.9,16.2 L83.1,13.1 L83.8,8.5 L84.2,6.5 L85.4,6.9 L86.2,5.4 L86.9,3.1 L87.5,4.6 L88.1,8.5 L89.2,12.3 L90.4,16.2 L91.2,20 L91.9,24.6 L93.1,29.2 L94.2,33.8 L95.4,38.5 L96.5,42.5 L98,46.5 L100,49.5 L104,51 L112.8,51.5 L166.8,51.5" fill="none" stroke="#100c5e"/><path d="M2.2,50.5 L2.3,73 L3.3,73.6 L39.2,73.6 L42.5,73.2 L47.4,73.6 L50.7,72.7 L55.6,71.9 L58.8,71.1 L62.1,70 L65.4,69 L68.6,67.8 L70,67.1 L71.5,65.5 L73.1,62.5 L74.6,60.9 L76.2,59.8 L77.3,57.8 L78.5,55.5 L79.2,54 L80.5,51 L81.7,47.5 L83,43 L83.8,40 L84.6,35.4 L86.5,36.2 L88.5,35.8 L90,35.4 L91.5,36.2 L93.1,38.5 L94.8,42.5 L96.4,44.1 L98.1,45 L99.7,43.3 L100.4,38.5 L101.9,33.8 L103.5,30.8 L104.6,28.5 L105.4,28.1 L106.2,29.2 L107.3,32.3 L108.5,36.2 L109.5,44.1 L111.2,49 L112.8,53.9 L114.4,60.5 L116.1,65.4 L117.7,69.5 L120.1,71.9 L122.6,73.6 L125.9,74.9 L134,74.9 L166.8,74.9 L166.8,75.7 L2.2,75.7 Z" fill="#fff"/><path d="M2.2,50.5 L2.3,73 L3.3,73.6 L39.2,73.6 L42.5,73.2 L47.4,73.6 L50.7,72.7 L55.6,71.9 L58.8,71.1 L62.1,70 L65.4,69 L68.6,67.8 L70,67.1 L71.5,65.5 L73.1,62.5 L74.6,60.9 L76.2,59.8 L77.3,57.8 L78.5,55.5 L79.2,54 L80.5,51 L81.7,47.5 L83,43 L83.8,40 L84.6,35.4 L86.5,36.2 L88.5,35.8 L90,35.4 L91.5,36.2 L93.1,38.5 L94.8,42.5 L96.4,44.1 L98.1,45 L99.7,43.3 L100.4,38.5 L101.9,33.8 L103.5,30.8 L104.6,28.5 L105.4,28.1 L106.2,29.2 L107.3,32.3 L108.5,36.2 L109.5,44.1 L111.2,49 L112.8,53.9 L114.4,60.5 L116.1,65.4 L117.7,69.5 L120.1,71.9 L122.6,73.6 L125.9,74.9 L134,74.9 L166.8,74.9" fill="none" stroke="#a2128a"/><path d="M2.2,73.6 L2.3,96.8 L3.3,97.3 L40.9,97.3 L49,96.4 L55.6,95.6 L60.5,96.1 L62.1,94.8 L64.6,93.2 L67,91.5 L68.6,89.9 L70,87.5 L72.3,87.1 L73.8,84.8 L75.4,81.7 L76.5,78.6 L77.7,80.2 L78.5,79.4 L79.2,75.5 L80,72.5 L81.2,70.2 L82.3,67.1 L83.1,64 L84.2,61.7 L85.4,60.9 L86.5,61.7 L87.3,59.4 L88.1,57.5 L88.8,56.7 L89.6,58.2 L90.8,59 L91.9,59.4 L92.7,60.5 L93.5,61.7 L94.6,62.8 L95.8,64.4 L96.9,67.5 L97.7,69.4 L98.5,68.6 L99.2,66.3 L100.4,63.2 L101.5,58.6 L102.7,54.8 L103.5,53.5 L104.2,53.2 L105,55.5 L106.2,58.6 L107.7,61.7 L108.8,65.5 L110,70.2 L111.2,75.2 L112,80 L112.8,83 L113.6,89.1 L116.1,93.2 L119.3,95.6 L124.2,97.3 L130.8,97.7 L166.8,97.7 L166.8,98.5 L2.2,98.5 Z" fill="#fff"/><path d="M2.2,73.6 L2.3,96.8 L3.3,97.3 L40.9,97.3 L49,96.4 L55.6,95.6 L60.5,96.1 L62.1,94.8 L64.6,93.2 L67,91.5 L68.6,89.9 L70,87.5 L72.3,87.1 L73.8,84.8 L75.4,81.7 L76.5,78.6 L77.7,80.2 L78.5,79.4 L79.2,75.5 L80,72.5 L81.2,70.2 L82.3,67.1 L83.1,64 L84.2,61.7 L85.4,60.9 L86.5,61.7 L87.3,59.4 L88.1,57.5 L88.8,56.7 L89.6,58.2 L90.8,59 L91.9,59.4 L92.7,60.5 L93.5,61.7 L94.6,62.8 L95.8,64.4 L96.9,67.5 L97.7,69.4 L98.5,68.6 L99.2,66.3 L100.4,63.2 L101.5,58.6 L102.7,54.8 L103.5,53.5 L104.2,53.2 L105,55.5 L106.2,58.6 L107.7,61.7 L108.8,65.5 L110,70.2 L111.2,75.2 L112,80 L112.8,83 L113.6,89.1 L116.1,93.2 L119.3,95.6 L124.2,97.3 L130.8,97.7 L166.8,97.7" fill="none" stroke="#14623a"/><path d="M2.2,97 L2.3,120.6 L3.3,121 L24.5,121.3 L40.9,121.3 L49,120.6 L57.2,119.7 L62.1,118.5 L65.4,117.4 L68.6,116.4 L70.3,115.2 L71.9,112.8 L73.6,110.3 L75.2,107.1 L76.8,103 L78.5,98.9 L80,94 L81.2,90.9 L82.3,88.6 L83.5,86.7 L84.6,84.8 L85.8,81.7 L86.5,78.6 L87.3,77.1 L88.5,75.5 L89.2,74.8 L89.8,75.9 L90.4,80.2 L91.2,85.5 L92.3,87.8 L93.1,89.4 L94,94.8 L95.6,103 L97.3,111.2 L98.9,116.1 L101.3,119.3 L104.6,121 L111.2,121.3 L166.8,121.3 L166.8,122.1 L2.2,122.1 Z" fill="#fff"/><path d="M2.2,97 L2.3,120.6 L3.3,121 L24.5,121.3 L40.9,121.3 L49,120.6 L57.2,119.7 L62.1,118.5 L65.4,117.4 L68.6,116.4 L70.3,115.2 L71.9,112.8 L73.6,110.3 L75.2,107.1 L76.8,103 L78.5,98.9 L80,94 L81.2,90.9 L82.3,88.6 L83.5,86.7 L84.6,84.8 L85.8,81.7 L86.5,78.6 L87.3,77.1 L88.5,75.5 L89.2,74.8 L89.8,75.9 L90.4,80.2 L91.2,85.5 L92.3,87.8 L93.1,89.4 L94,94.8 L95.6,103 L97.3,111.2 L98.9,116.1 L101.3,119.3 L104.6,121 L111.2,121.3 L166.8,121.3" fill="none" stroke="#1c9cba"/><path d="M2.2,130 L2.3,144.2 L3.3,144.7 L16.3,144.7 L19.6,143.8 L22.9,144.7 L49,144.7 L57.2,143.8 L63.7,143 L67,142.2 L70.3,140.6 L73.6,138.1 L75,135.7 L76.7,133.5 L78.5,129.7 L79.8,126.2 L81.1,122.7 L81.9,118.4 L83.2,114.1 L84.5,112.4 L85.4,110.6 L86.2,106.3 L87.5,103.7 L88.4,100.2 L89.3,99 L90.1,99.4 L91,100.7 L91.4,102.8 L92.3,107.2 L93.2,111.5 L94,115.8 L95.3,120.1 L96.6,124.5 L97.9,129.7 L99.2,134.8 L100.1,138.3 L101.3,141.4 L104.6,143.8 L109.5,144.7 L166.8,144.7 L166.8,145.5 L2.2,145.5 Z" fill="#fff"/><path d="M2.2,130 L2.3,144.2 L3.3,144.7 L16.3,144.7 L19.6,143.8 L22.9,144.7 L49,144.7 L57.2,143.8 L63.7,143 L67,142.2 L70.3,140.6 L73.6,138.1 L75,135.7 L76.7,133.5 L78.5,129.7 L79.8,126.2 L81.1,122.7 L81.9,118.4 L83.2,114.1 L84.5,112.4 L85.4,110.6 L86.2,106.3 L87.5,103.7 L88.4,100.2 L89.3,99 L90.1,99.4 L91,100.7 L91.4,102.8 L92.3,107.2 L93.2,111.5 L94,115.8 L95.3,120.1 L96.6,124.5 L97.9,129.7 L99.2,134.8 L100.1,138.3 L101.3,141.4 L104.6,143.8 L109.5,144.7 L166.8,144.7" fill="none" stroke="#261078"/><path d="M2.2,156 L2.3,166.2 L3.3,166.7 L65.4,166.7 L68.6,165.1 L71.9,161.8 L75.2,158.6 L77.6,155.3 L80.1,150.4 L81.7,145.5 L83.7,139 L85,134.8 L86.2,132.3 L87.5,128.8 L88.8,125.3 L90.1,122.7 L91,121.9 L91.9,123.6 L92.7,127.9 L93.6,132.3 L94.5,135.7 L95.3,139 L96.4,147.1 L98.1,155.3 L99.7,161.8 L101.3,165.1 L103,166.7 L106.2,167.5 L166.8,167.5 L166.8,168.3 L2.2,168.3 Z" fill="#fff"/><path d="M2.2,156 L2.3,166.2 L3.3,166.7 L65.4,166.7 L68.6,165.1 L71.9,161.8 L75.2,158.6 L77.6,155.3 L80.1,150.4 L81.7,145.5 L83.7,139 L85,134.8 L86.2,132.3 L87.5,128.8 L88.8,125.3 L90.1,122.7 L91,121.9 L91.9,123.6 L92.7,127.9 L93.6,132.3 L94.5,135.7 L95.3,139 L96.4,147.1 L98.1,155.3 L99.7,161.8 L101.3,165.1 L103,166.7 L106.2,167.5 L166.8,167.5" fill="none" stroke="#5ab43a"/></g>
<rect x="174.9" y="206.7" width="167.4" height="167.1" fill="none" stroke="#000" stroke-width="1.9"/>
<g transform="translate(174,206)" stroke-width="2.4" stroke-linecap="round"><line x1="2.2" y1="26.2" x2="2.3" y2="50" stroke="#100c5e"/><line x1="2.2" y1="50.5" x2="2.3" y2="73" stroke="#a2128a"/><line x1="2.2" y1="73.6" x2="2.3" y2="96.8" stroke="#14623a"/><line x1="2.2" y1="97" x2="2.3" y2="120.6" stroke="#1c9cba"/><line x1="2.2" y1="130" x2="2.3" y2="144.2" stroke="#261078"/><line x1="2.2" y1="156" x2="2.3" y2="166.2" stroke="#5ab43a"/></g>
<g stroke="#000" stroke-width="1.3"><line x1="175.5" y1="373.8" x2="175.5" y2="379.4" stroke-width="1.8"/><line x1="190.8" y1="373.8" x2="190.8" y2="379.4" stroke-width="1.8"/><line x1="210.2" y1="373.8" x2="210.2" y2="379.4" stroke-width="1.8"/><line x1="250.3" y1="373.8" x2="250.3" y2="379.4" stroke-width="1.8"/><line x1="289.3" y1="373.8" x2="289.3" y2="379.4" stroke-width="1.8"/><line x1="327.3" y1="373.8" x2="327.3" y2="379.4" stroke-width="1.8"/><line x1="222.3" y1="373.8" x2="222.3" y2="378.1"/><line x1="229.4" y1="373.8" x2="229.4" y2="378.1"/><line x1="234.4" y1="373.8" x2="234.4" y2="378.1"/><line x1="238.2" y1="373.8" x2="238.2" y2="378.1"/><line x1="241.4" y1="373.8" x2="241.4" y2="378.1"/><line x1="244.1" y1="373.8" x2="244.1" y2="378.1"/><line x1="246.4" y1="373.8" x2="246.4" y2="378.1"/><line x1="248.5" y1="373.8" x2="248.5" y2="378.1"/><line x1="262.0" y1="373.8" x2="262.0" y2="378.1"/><line x1="268.9" y1="373.8" x2="268.9" y2="378.1"/><line x1="273.8" y1="373.8" x2="273.8" y2="378.1"/><line x1="277.6" y1="373.8" x2="277.6" y2="378.1"/><line x1="280.6" y1="373.8" x2="280.6" y2="378.1"/><line x1="283.3" y1="373.8" x2="283.3" y2="378.1"/><line x1="285.5" y1="373.8" x2="285.5" y2="378.1"/><line x1="287.5" y1="373.8" x2="287.5" y2="378.1"/><line x1="300.7" y1="373.8" x2="300.7" y2="378.1"/><line x1="307.4" y1="373.8" x2="307.4" y2="378.1"/><line x1="312.2" y1="373.8" x2="312.2" y2="378.1"/><line x1="315.9" y1="373.8" x2="315.9" y2="378.1"/><line x1="318.9" y1="373.8" x2="318.9" y2="378.1"/><line x1="321.4" y1="373.8" x2="321.4" y2="378.1"/><line x1="323.6" y1="373.8" x2="323.6" y2="378.1"/><line x1="325.6" y1="373.8" x2="325.6" y2="378.1"/><line x1="338.7" y1="373.8" x2="338.7" y2="378.1"/><line x1="177.0" y1="373.8" x2="177.0" y2="377.2"/><line x1="178.6" y1="373.8" x2="178.6" y2="377.2"/><line x1="180.1" y1="373.8" x2="180.1" y2="377.2"/><line x1="181.6" y1="373.8" x2="181.6" y2="377.2"/><line x1="183.2" y1="373.8" x2="183.2" y2="377.2"/><line x1="184.7" y1="373.8" x2="184.7" y2="377.2"/><line x1="186.2" y1="373.8" x2="186.2" y2="377.2"/><line x1="187.7" y1="373.8" x2="187.7" y2="377.2"/><line x1="189.3" y1="373.8" x2="189.3" y2="377.2"/><line x1="196.7" y1="373.8" x2="196.7" y2="377.2"/><line x1="200.1" y1="373.8" x2="200.1" y2="377.2"/><line x1="202.5" y1="373.8" x2="202.5" y2="377.2"/><line x1="204.4" y1="373.8" x2="204.4" y2="377.2"/><line x1="205.9" y1="373.8" x2="205.9" y2="377.2"/><line x1="207.2" y1="373.8" x2="207.2" y2="377.2"/><line x1="208.4" y1="373.8" x2="208.4" y2="377.2"/><line x1="209.4" y1="373.8" x2="209.4" y2="377.2"/></g>
<g transform="translate(350,206)" stroke-width="2.4" stroke-linejoin="round" stroke-linecap="round"><path d="M2.6,49 L3.3,50.7 L21.2,50.7 L22.9,49.9 L24.5,50.7 L52.3,50.7 L57.2,49.9 L65.4,49.4 L70.3,48.7 L75,48.2 L76.9,47.1 L78.8,46.2 L80.8,45.2 L82.7,43.3 L84.6,40.4 L86.5,37.5 L88,34.6 L88.9,30.8 L89.9,26 L90.9,22.1 L91.8,19.2 L92.3,16.3 L93.1,13.5 L93.8,12 L94.2,9.6 L94.7,6.7 L95.2,4.8 L96,5.3 L96.9,6.7 L97.6,8.7 L98.3,11.5 L99,15.4 L99.8,19.2 L100.5,24 L101.2,28.8 L101.9,32.7 L102.7,36.5 L103.4,40.4 L104.5,45 L106,48.5 L110,50.5 L113.6,51 L167.6,51 L167.6,51.8 L2.6,51.8 Z" fill="#fff"/><path d="M2.6,49 L3.3,50.7 L21.2,50.7 L22.9,49.9 L24.5,50.7 L52.3,50.7 L57.2,49.9 L65.4,49.4 L70.3,48.7 L75,48.2 L76.9,47.1 L78.8,46.2 L80.8,45.2 L82.7,43.3 L84.6,40.4 L86.5,37.5 L88,34.6 L88.9,30.8 L89.9,26 L90.9,22.1 L91.8,19.2 L92.3,16.3 L93.1,13.5 L93.8,12 L94.2,9.6 L94.7,6.7 L95.2,4.8 L96,5.3 L96.9,6.7 L97.6,8.7 L98.3,11.5 L99,15.4 L99.8,19.2 L100.5,24 L101.2,28.8 L101.9,32.7 L102.7,36.5 L103.4,40.4 L104.5,45 L106,48.5 L110,50.5 L113.6,51 L167.6,51" fill="none" stroke="#e01820"/><path d="M2.6,74.4 L40.9,74.9 L49,73.9 L57.2,73.6 L62.1,72.4 L65.4,71.1 L68.6,70 L71.9,69.5 L75,69.5 L76.9,69 L79.8,68 L82.7,67.1 L84.6,66.6 L86.1,65.2 L87,64.2 L88.5,66.1 L89.9,67.1 L91.3,65.6 L92.8,64.2 L94.2,64.7 L95.7,65.6 L97.1,66.6 L98.6,65.6 L100,63.2 L101,59.4 L101.9,54.6 L102.4,50 L103.4,45.2 L104.3,40.4 L105.3,35.6 L106.3,30.8 L107.2,28.4 L107.9,27.9 L108.7,29.8 L109.4,32.7 L110.1,36.5 L110.8,41 L111.6,46 L112.5,52 L113.4,58 L114.2,63.5 L115.2,67.5 L116.3,70 L117.8,71.9 L119.2,72.8 L121.2,73.8 L123.1,74.3 L127.5,75.2 L167.6,75.2 L167.6,76 L2.6,76 Z" fill="#fff"/><path d="M2.6,74.4 L40.9,74.9 L49,73.9 L57.2,73.6 L62.1,72.4 L65.4,71.1 L68.6,70 L71.9,69.5 L75,69.5 L76.9,69 L79.8,68 L82.7,67.1 L84.6,66.6 L86.1,65.2 L87,64.2 L88.5,66.1 L89.9,67.1 L91.3,65.6 L92.8,64.2 L94.2,64.7 L95.7,65.6 L97.1,66.6 L98.6,65.6 L100,63.2 L101,59.4 L101.9,54.6 L102.4,50 L103.4,45.2 L104.3,40.4 L105.3,35.6 L106.3,30.8 L107.2,28.4 L107.9,27.9 L108.7,29.8 L109.4,32.7 L110.1,36.5 L110.8,41 L111.6,46 L112.5,52 L113.4,58 L114.2,63.5 L115.2,67.5 L116.3,70 L117.8,71.9 L119.2,72.8 L121.2,73.8 L123.1,74.3 L127.5,75.2 L167.6,75.2" fill="none" stroke="#ec8820"/><path d="M2.6,89.9 L2.8,97.3 L3.5,97.3 L24.5,97.7 L32.7,96.8 L40.9,97.3 L49,96.8 L57.2,96.4 L62.1,96.1 L65.4,95.6 L68.6,94.8 L71.9,94 L75,92.5 L77.6,90.8 L80.2,90 L81.9,89.1 L83.7,86.9 L85,88.7 L86.2,89.5 L87.5,88.2 L88.8,85.6 L89.7,84.3 L90.6,86.5 L93,86 L96,86.5 L99.2,84.8 L100.5,81.3 L101.8,77 L102.7,73.5 L103.5,70.1 L104.4,66.6 L105.3,63 L105.8,58.4 L106.7,54.6 L107.7,51.7 L108.5,49.8 L109.1,52.7 L110.1,58.4 L110.6,63.2 L111.3,64.2 L112,65.2 L113,70.9 L113.9,76.7 L114.9,82.5 L115.9,86.3 L116.8,89.2 L117.8,91.1 L118.8,92.6 L120.1,94.8 L123.4,96.8 L127.5,97.7 L167.6,97.7 L167.6,98.5 L2.6,98.5 Z" fill="#fff"/><path d="M2.6,89.9 L2.8,97.3 L3.5,97.3 L24.5,97.7 L32.7,96.8 L40.9,97.3 L49,96.8 L57.2,96.4 L62.1,96.1 L65.4,95.6 L68.6,94.8 L71.9,94 L75,92.5 L77.6,90.8 L80.2,90 L81.9,89.1 L83.7,86.9 L85,88.7 L86.2,89.5 L87.5,88.2 L88.8,85.6 L89.7,84.3 L90.6,86.5 L93,86 L96,86.5 L99.2,84.8 L100.5,81.3 L101.8,77 L102.7,73.5 L103.5,70.1 L104.4,66.6 L105.3,63 L105.8,58.4 L106.7,54.6 L107.7,51.7 L108.5,49.8 L109.1,52.7 L110.1,58.4 L110.6,63.2 L111.3,64.2 L112,65.2 L113,70.9 L113.9,76.7 L114.9,82.5 L115.9,86.3 L116.8,89.2 L117.8,91.1 L118.8,92.6 L120.1,94.8 L123.4,96.8 L127.5,97.7 L167.6,97.7" fill="none" stroke="#3c2814"/><path d="M2.6,121 L49,121.3 L57.2,120.6 L65.4,119.7 L70.3,118.5 L75,117.5 L78.4,116.5 L81.7,114.5 L83.2,112.5 L84.5,110.7 L86.2,106.4 L88,102.1 L89.3,98.6 L90.6,93.4 L91.9,89.1 L93.2,83.9 L94.5,78.7 L95.3,74.4 L96.2,77 L97.1,79.6 L97.9,83.9 L98.8,89.1 L99.7,94.3 L100.5,99.5 L101.4,104.7 L102.2,109.8 L103.1,112.5 L104.8,115.7 L106.5,118.6 L108.7,120.3 L112.1,121.3 L167.6,121.3 L167.6,122.1 L2.6,122.1 Z" fill="#fff"/><path d="M2.6,121 L49,121.3 L57.2,120.6 L65.4,119.7 L70.3,118.5 L75,117.5 L78.4,116.5 L81.7,114.5 L83.2,112.5 L84.5,110.7 L86.2,106.4 L88,102.1 L89.3,98.6 L90.6,93.4 L91.9,89.1 L93.2,83.9 L94.5,78.7 L95.3,74.4 L96.2,77 L97.1,79.6 L97.9,83.9 L98.8,89.1 L99.7,94.3 L100.5,99.5 L101.4,104.7 L102.2,109.8 L103.1,112.5 L104.8,115.7 L106.5,118.6 L108.7,120.3 L112.1,121.3 L167.6,121.3" fill="none" stroke="#700508"/><path d="M2.6,144.7 L49,145.2 L57.2,144.7 L65.4,143.8 L70.3,143 L75,142.2 L78.4,140.5 L81.7,138.3 L85.1,134.3 L87.4,129.8 L89.6,123.1 L91.9,115.2 L92.3,114 L93.6,105.5 L94.5,100.3 L95.3,97.3 L96.2,100.3 L97.1,105.5 L98.4,112.4 L99.2,114 L100.3,119 L101.4,124.2 L103.1,132.1 L104.8,138.8 L107,142.8 L111,144.4 L115,145 L167.6,145 L167.6,145.8 L2.6,145.8 Z" fill="#fff"/><path d="M2.6,144.7 L49,145.2 L57.2,144.7 L65.4,143.8 L70.3,143 L75,142.2 L78.4,140.5 L81.7,138.3 L85.1,134.3 L87.4,129.8 L89.6,123.1 L91.9,115.2 L92.3,114 L93.6,105.5 L94.5,100.3 L95.3,97.3 L96.2,100.3 L97.1,105.5 L98.4,112.4 L99.2,114 L100.3,119 L101.4,124.2 L103.1,132.1 L104.8,138.8 L107,142.8 L111,144.4 L115,145 L167.6,145" fill="none" stroke="#d08a55"/><path d="M2.6,167.2 L49,167.2 L73.6,166.6 L75,166.4 L77.2,164.7 L79.5,163 L81.7,160.2 L84,156.8 L85.7,153.4 L87.4,147.8 L88.5,143.3 L89.6,138.8 L90.7,134.3 L91.9,129.8 L92.4,126.5 L93.2,127.6 L93.9,124.2 L94.7,120.9 L95.2,116.9 L95.8,122 L96.3,132.1 L96.9,126.5 L97.5,135.5 L98,131 L98.6,129.8 L99.2,136.6 L99.7,142.2 L100.3,146.7 L100.8,152.3 L102,157.9 L103.1,162.4 L104.2,165.2 L105.9,166.9 L108.7,167.5 L167.6,167.5 L167.6,168.3 L2.6,168.3 Z" fill="#fff"/><path d="M2.6,167.2 L49,167.2 L73.6,166.6 L75,166.4 L77.2,164.7 L79.5,163 L81.7,160.2 L84,156.8 L85.7,153.4 L87.4,147.8 L88.5,143.3 L89.6,138.8 L90.7,134.3 L91.9,129.8 L92.4,126.5 L93.2,127.6 L93.9,124.2 L94.7,120.9 L95.2,116.9 L95.8,122 L96.3,132.1 L96.9,126.5 L97.5,135.5 L98,131 L98.6,129.8 L99.2,136.6 L99.7,142.2 L100.3,146.7 L100.8,152.3 L102,157.9 L103.1,162.4 L104.2,165.2 L105.9,166.9 L108.7,167.5 L167.6,167.5" fill="none" stroke="#000000"/></g>
<rect x="350.9" y="206.7" width="167.9" height="167.1" fill="none" stroke="#000" stroke-width="1.9"/>
<g transform="translate(350,206)" stroke-width="2.4" stroke-linecap="round"><line x1="2.6" y1="89.9" x2="2.8" y2="97.3" stroke="#3c2814"/></g>
<g stroke="#000" stroke-width="1.3"><line x1="352.4" y1="373.8" x2="352.4" y2="379.4" stroke-width="1.8"/><line x1="367.7" y1="373.8" x2="367.7" y2="379.4" stroke-width="1.8"/><line x1="387.1" y1="373.8" x2="387.1" y2="379.4" stroke-width="1.8"/><line x1="427.2" y1="373.8" x2="427.2" y2="379.4" stroke-width="1.8"/><line x1="466.2" y1="373.8" x2="466.2" y2="379.4" stroke-width="1.8"/><line x1="504.2" y1="373.8" x2="504.2" y2="379.4" stroke-width="1.8"/><line x1="399.2" y1="373.8" x2="399.2" y2="378.1"/><line x1="406.3" y1="373.8" x2="406.3" y2="378.1"/><line x1="411.3" y1="373.8" x2="411.3" y2="378.1"/><line x1="415.1" y1="373.8" x2="415.1" y2="378.1"/><line x1="418.3" y1="373.8" x2="418.3" y2="378.1"/><line x1="421.0" y1="373.8" x2="421.0" y2="378.1"/><line x1="423.3" y1="373.8" x2="423.3" y2="378.1"/><line x1="425.4" y1="373.8" x2="425.4" y2="378.1"/><line x1="438.9" y1="373.8" x2="438.9" y2="378.1"/><line x1="445.8" y1="373.8" x2="445.8" y2="378.1"/><line x1="450.7" y1="373.8" x2="450.7" y2="378.1"/><line x1="454.5" y1="373.8" x2="454.5" y2="378.1"/><line x1="457.5" y1="373.8" x2="457.5" y2="378.1"/><line x1="460.2" y1="373.8" x2="460.2" y2="378.1"/><line x1="462.4" y1="373.8" x2="462.4" y2="378.1"/><line x1="464.4" y1="373.8" x2="464.4" y2="378.1"/><line x1="477.6" y1="373.8" x2="477.6" y2="378.1"/><line x1="484.3" y1="373.8" x2="484.3" y2="378.1"/><line x1="489.1" y1="373.8" x2="489.1" y2="378.1"/><line x1="492.8" y1="373.8" x2="492.8" y2="378.1"/><line x1="495.8" y1="373.8" x2="495.8" y2="378.1"/><line x1="498.3" y1="373.8" x2="498.3" y2="378.1"/><line x1="500.5" y1="373.8" x2="500.5" y2="378.1"/><line x1="502.5" y1="373.8" x2="502.5" y2="378.1"/><line x1="515.6" y1="373.8" x2="515.6" y2="378.1"/><line x1="353.9" y1="373.8" x2="353.9" y2="377.2"/><line x1="355.5" y1="373.8" x2="355.5" y2="377.2"/><line x1="357.0" y1="373.8" x2="357.0" y2="377.2"/><line x1="358.5" y1="373.8" x2="358.5" y2="377.2"/><line x1="360.1" y1="373.8" x2="360.1" y2="377.2"/><line x1="361.6" y1="373.8" x2="361.6" y2="377.2"/><line x1="363.1" y1="373.8" x2="363.1" y2="377.2"/><line x1="364.6" y1="373.8" x2="364.6" y2="377.2"/><line x1="366.2" y1="373.8" x2="366.2" y2="377.2"/><line x1="373.6" y1="373.8" x2="373.6" y2="377.2"/><line x1="377.0" y1="373.8" x2="377.0" y2="377.2"/><line x1="379.4" y1="373.8" x2="379.4" y2="377.2"/><line x1="381.3" y1="373.8" x2="381.3" y2="377.2"/><line x1="382.8" y1="373.8" x2="382.8" y2="377.2"/><line x1="384.1" y1="373.8" x2="384.1" y2="377.2"/><line x1="385.3" y1="373.8" x2="385.3" y2="377.2"/><line x1="386.3" y1="373.8" x2="386.3" y2="377.2"/></g>
<g transform="translate(174,386)" stroke-width="2.4" stroke-linejoin="round" stroke-linecap="round"><path d="M2.2,51 L18,51 L24.5,50.3 L32.7,49.9 L37.6,48.7 L40.9,47.7 L43.3,45.8 L45.4,43.3 L47.4,39.2 L49,36 L50.7,33.5 L52,31.7 L53,28.8 L53.9,26 L55.4,22.1 L56.8,18.3 L58.3,14.9 L59.2,13.5 L60.2,9.6 L61.1,7.7 L62.1,8.2 L63.1,6.3 L64,4.3 L64.5,3.8 L65,5.8 L65.5,8.7 L66.2,11.5 L67.4,12 L68.3,13 L68.8,15.4 L69.3,18.3 L69.8,21.2 L70.3,24 L70.8,26.9 L71.7,29.3 L72.7,31.7 L74.1,34.1 L75.6,37.5 L76.5,39.4 L80,42 L85,45 L92,49 L96.4,50.3 L101.3,51 L104.6,49.9 L106.2,50.7 L166.8,51 L166.8,51.8 L2.2,51.8 Z" fill="#fff"/><path d="M2.2,51 L18,51 L24.5,50.3 L32.7,49.9 L37.6,48.7 L40.9,47.7 L43.3,45.8 L45.4,43.3 L47.4,39.2 L49,36 L50.7,33.5 L52,31.7 L53,28.8 L53.9,26 L55.4,22.1 L56.8,18.3 L58.3,14.9 L59.2,13.5 L60.2,9.6 L61.1,7.7 L62.1,8.2 L63.1,6.3 L64,4.3 L64.5,3.8 L65,5.8 L65.5,8.7 L66.2,11.5 L67.4,12 L68.3,13 L68.8,15.4 L69.3,18.3 L69.8,21.2 L70.3,24 L70.8,26.9 L71.7,29.3 L72.7,31.7 L74.1,34.1 L75.6,37.5 L76.5,39.4 L80,42 L85,45 L92,49 L96.4,50.3 L101.3,51 L104.6,49.9 L106.2,50.7 L166.8,51" fill="none" stroke="#100c5e"/><path d="M2.2,74.9 L32.7,74.4 L36,72.7 L39.2,70.3 L41.7,67 L43.3,62.9 L45.8,57.2 L48.2,50.7 L50.7,45.8 L52,44 L53,39.4 L53.9,37.5 L55.4,40.4 L56.8,39.4 L58.3,38.5 L59.7,37 L61.1,37.5 L62.1,41.3 L63.1,37.5 L64,34.6 L65,33.7 L65.9,34.6 L66.9,40.4 L67.4,44.2 L68.3,40.4 L69.3,38.5 L70.3,39.4 L71.2,42.3 L72.2,44.7 L73.2,44.2 L74.6,42.3 L76,40.4 L77.5,38.9 L78.4,36.5 L79.4,34.1 L80.4,32.7 L81.3,30.8 L82.3,28.4 L83,28.8 L83.7,30.8 L85.2,30.8 L86.6,31.3 L87.6,32.2 L88.5,34.1 L89.5,31.7 L90.5,30.8 L91.4,31.3 L91.9,34.6 L92.4,38.5 L93.3,43.3 L94.3,45.2 L95.3,46.2 L96.2,50 L97.5,56 L99.4,63.5 L101.3,67.3 L103.3,70.2 L105.2,72.1 L107.1,73.1 L110,73.6 L114.4,74.4 L117.7,74.9 L166.8,74.9 L166.8,75.7 L2.2,75.7 Z" fill="#fff"/><path d="M2.2,74.9 L32.7,74.4 L36,72.7 L39.2,70.3 L41.7,67 L43.3,62.9 L45.8,57.2 L48.2,50.7 L50.7,45.8 L52,44 L53,39.4 L53.9,37.5 L55.4,40.4 L56.8,39.4 L58.3,38.5 L59.7,37 L61.1,37.5 L62.1,41.3 L63.1,37.5 L64,34.6 L65,33.7 L65.9,34.6 L66.9,40.4 L67.4,44.2 L68.3,40.4 L69.3,38.5 L70.3,39.4 L71.2,42.3 L72.2,44.7 L73.2,44.2 L74.6,42.3 L76,40.4 L77.5,38.9 L78.4,36.5 L79.4,34.1 L80.4,32.7 L81.3,30.8 L82.3,28.4 L83,28.8 L83.7,30.8 L85.2,30.8 L86.6,31.3 L87.6,32.2 L88.5,34.1 L89.5,31.7 L90.5,30.8 L91.4,31.3 L91.9,34.6 L92.4,38.5 L93.3,43.3 L94.3,45.2 L95.3,46.2 L96.2,50 L97.5,56 L99.4,63.5 L101.3,67.3 L103.3,70.2 L105.2,72.1 L107.1,73.1 L110,73.6 L114.4,74.4 L117.7,74.9 L166.8,74.9" fill="none" stroke="#a2128a"/><path d="M2.2,97.7 L16.3,97.7 L24.5,96.8 L29.4,96.4 L32.7,95.6 L37.6,94.5 L39.2,92.4 L40.9,89.9 L42.5,87 L44.1,80.1 L46.6,75.2 L49,70.3 L51.5,65.4 L53.1,62.9 L54.8,59.7 L56.4,57.2 L58,56 L60,58.7 L61,56.7 L62.4,53.8 L63.8,52.9 L65.3,54.8 L66.7,57.7 L68.2,56.7 L69.6,54.3 L71.1,52.4 L72,53.8 L73.5,55.8 L74.9,57.2 L76.3,55.3 L77.8,53.8 L79.2,52.4 L80.2,51.9 L81.2,53.8 L82.1,56.3 L83.6,55.3 L85,54.3 L86.4,54.8 L87.9,53.4 L89.3,53.8 L90.3,54.8 L91.3,58.7 L92.2,61.5 L93.2,63.5 L94.1,67.3 L95.1,72.1 L96.1,76.9 L97,80.8 L98,83.7 L99.4,86.5 L100.9,88.5 L102.3,90.4 L103.8,92.8 L105.2,94.2 L107.1,95.2 L110,96.5 L117.7,97.3 L122.6,97.7 L166.8,97.7 L166.8,98.5 L2.2,98.5 Z" fill="#fff"/><path d="M2.2,97.7 L16.3,97.7 L24.5,96.8 L29.4,96.4 L32.7,95.6 L37.6,94.5 L39.2,92.4 L40.9,89.9 L42.5,87 L44.1,80.1 L46.6,75.2 L49,70.3 L51.5,65.4 L53.1,62.9 L54.8,59.7 L56.4,57.2 L58,56 L60,58.7 L61,56.7 L62.4,53.8 L63.8,52.9 L65.3,54.8 L66.7,57.7 L68.2,56.7 L69.6,54.3 L71.1,52.4 L72,53.8 L73.5,55.8 L74.9,57.2 L76.3,55.3 L77.8,53.8 L79.2,52.4 L80.2,51.9 L81.2,53.8 L82.1,56.3 L83.6,55.3 L85,54.3 L86.4,54.8 L87.9,53.4 L89.3,53.8 L90.3,54.8 L91.3,58.7 L92.2,61.5 L93.2,63.5 L94.1,67.3 L95.1,72.1 L96.1,76.9 L97,80.8 L98,83.7 L99.4,86.5 L100.9,88.5 L102.3,90.4 L103.8,92.8 L105.2,94.2 L107.1,95.2 L110,96.5 L117.7,97.3 L122.6,97.7 L166.8,97.7" fill="none" stroke="#14623a"/><path d="M2.2,121.3 L16.3,121.3 L32.7,120.6 L40.9,119.7 L45.8,119.3 L49,119.7 L52.3,118.5 L55.6,116.1 L58,112.8 L59.7,109.5 L61.3,106.2 L62.9,103 L64.8,100 L65.8,97.1 L66.7,94.2 L67.7,92.3 L68.7,89.4 L69.6,86.5 L70.6,83.7 L71.5,82.7 L73,80.8 L73.9,78.8 L74.9,76.9 L75.4,76 L76.3,77.9 L77.3,78.8 L78.3,76.9 L79.2,74.5 L80.2,77.9 L81.2,84.6 L82.1,81.7 L83.1,76 L84,78.8 L85,85.6 L86,80.8 L86.9,78.8 L87.9,81.7 L88.8,79.8 L89.8,82.7 L90.8,83.7 L91.7,84.6 L92.7,86.5 L93.7,88.5 L94.6,89.4 L96.1,88.5 L97.5,89.4 L98.5,88 L99.9,88.9 L100.9,90.4 L101.8,92.3 L102.8,94.2 L104.2,96.2 L106.2,97.6 L108.1,99.5 L111.2,104.6 L113.6,109.5 L116.1,114.4 L118.5,117.7 L121,119.3 L124.2,120.1 L130.8,121.3 L166.8,121.3 L166.8,122.1 L2.2,122.1 Z" fill="#fff"/><path d="M2.2,121.3 L16.3,121.3 L32.7,120.6 L40.9,119.7 L45.8,119.3 L49,119.7 L52.3,118.5 L55.6,116.1 L58,112.8 L59.7,109.5 L61.3,106.2 L62.9,103 L64.8,100 L65.8,97.1 L66.7,94.2 L67.7,92.3 L68.7,89.4 L69.6,86.5 L70.6,83.7 L71.5,82.7 L73,80.8 L73.9,78.8 L74.9,76.9 L75.4,76 L76.3,77.9 L77.3,78.8 L78.3,76.9 L79.2,74.5 L80.2,77.9 L81.2,84.6 L82.1,81.7 L83.1,76 L84,78.8 L85,85.6 L86,80.8 L86.9,78.8 L87.9,81.7 L88.8,79.8 L89.8,82.7 L90.8,83.7 L91.7,84.6 L92.7,86.5 L93.7,88.5 L94.6,89.4 L96.1,88.5 L97.5,89.4 L98.5,88 L99.9,88.9 L100.9,90.4 L101.8,92.3 L102.8,94.2 L104.2,96.2 L106.2,97.6 L108.1,99.5 L111.2,104.6 L113.6,109.5 L116.1,114.4 L118.5,117.7 L121,119.3 L124.2,120.1 L130.8,121.3 L166.8,121.3" fill="none" stroke="#1c9cba"/><path d="M2.2,144.7 L24.5,144.7 L36,143.5 L44.1,143 L49,142.5 L52.3,141.9 L55.6,140.6 L58,138.9 L60.5,137.3 L62.9,134 L65,132.4 L66.7,128.9 L68.5,125.5 L69.8,122 L71.1,119.4 L72.8,116 L74.1,114.2 L75.4,110.8 L76.7,106.4 L77.5,104.3 L78.4,103.8 L79.3,105.6 L80.1,108.2 L81,105.1 L81.9,101.2 L83.2,100.4 L84.5,99.5 L85.3,98.7 L86.2,99.9 L87.1,101.7 L87.9,100.8 L88.8,102.1 L89.7,103.8 L90.5,106.4 L91.4,106 L92.2,107.3 L93.1,110.8 L94,114.2 L94.8,116.8 L95.7,113.4 L96.6,111.6 L97.4,112.5 L98.3,115.1 L99.2,116.8 L100.5,118.5 L101.8,120.3 L102.6,122.9 L103.5,126.3 L104.6,127.8 L106.2,129.1 L107.9,133.2 L109.5,135.7 L112,138.9 L114.4,141.4 L117.7,143.5 L122.6,144.7 L166.8,144.7 L166.8,145.5 L2.2,145.5 Z" fill="#fff"/><path d="M2.2,144.7 L24.5,144.7 L36,143.5 L44.1,143 L49,142.5 L52.3,141.9 L55.6,140.6 L58,138.9 L60.5,137.3 L62.9,134 L65,132.4 L66.7,128.9 L68.5,125.5 L69.8,122 L71.1,119.4 L72.8,116 L74.1,114.2 L75.4,110.8 L76.7,106.4 L77.5,104.3 L78.4,103.8 L79.3,105.6 L80.1,108.2 L81,105.1 L81.9,101.2 L83.2,100.4 L84.5,99.5 L85.3,98.7 L86.2,99.9 L87.1,101.7 L87.9,100.8 L88.8,102.1 L89.7,103.8 L90.5,106.4 L91.4,106 L92.2,107.3 L93.1,110.8 L94,114.2 L94.8,116.8 L95.7,113.4 L96.6,111.6 L97.4,112.5 L98.3,115.1 L99.2,116.8 L100.5,118.5 L101.8,120.3 L102.6,122.9 L103.5,126.3 L104.6,127.8 L106.2,129.1 L107.9,133.2 L109.5,135.7 L112,138.9 L114.4,141.4 L117.7,143.5 L122.6,144.7 L166.8,144.7" fill="none" stroke="#261078"/><path d="M2.2,167.5 L24.5,167.5 L40.9,166.7 L45.8,165.9 L49,164.8 L52.3,161.8 L55.6,156.9 L58,152 L60.5,147.9 L62.1,146.3 L64.6,147.1 L67,143.8 L69.3,140 L70.6,137.6 L71.9,135 L73.2,132.4 L74.1,129.8 L74.9,130.7 L75.8,133.3 L76.7,129.8 L77.5,126.3 L78.4,122.9 L79.3,124.6 L80.1,126.3 L81,123.7 L81.9,122.4 L82.7,123.3 L83.6,125.5 L84.5,123.7 L85.3,124.2 L86.2,126.3 L87.1,128.9 L87.9,130.7 L88.8,129.8 L89.7,131.5 L90.5,134.1 L91.4,136.7 L92.2,139.3 L93.2,139.8 L94.8,141.4 L96.4,144.7 L98.1,147.1 L99.7,150.4 L101.3,152 L103,154.5 L104.6,156.9 L106.2,158.6 L107.9,161 L110.3,163.5 L112.8,165.1 L115.2,166.4 L119.3,167.5 L166.8,167.8 L166.8,168.6 L2.2,168.6 Z" fill="#fff"/><path d="M2.2,167.5 L24.5,167.5 L40.9,166.7 L45.8,165.9 L49,164.8 L52.3,161.8 L55.6,156.9 L58,152 L60.5,147.9 L62.1,146.3 L64.6,147.1 L67,143.8 L69.3,140 L70.6,137.6 L71.9,135 L73.2,132.4 L74.1,129.8 L74.9,130.7 L75.8,133.3 L76.7,129.8 L77.5,126.3 L78.4,122.9 L79.3,124.6 L80.1,126.3 L81,123.7 L81.9,122.4 L82.7,123.3 L83.6,125.5 L84.5,123.7 L85.3,124.2 L86.2,126.3 L87.1,128.9 L87.9,130.7 L88.8,129.8 L89.7,131.5 L90.5,134.1 L91.4,136.7 L92.2,139.3 L93.2,139.8 L94.8,141.4 L96.4,144.7 L98.1,147.1 L99.7,150.4 L101.3,152 L103,154.5 L104.6,156.9 L106.2,158.6 L107.9,161 L110.3,163.5 L112.8,165.1 L115.2,166.4 L119.3,167.5 L166.8,167.8" fill="none" stroke="#5ab43a"/></g>
<rect x="174.9" y="386.7" width="167.4" height="167.0" fill="none" stroke="#000" stroke-width="1.9"/>
<g stroke="#000" stroke-width="1.3"><line x1="175.5" y1="553.7" x2="175.5" y2="559.3" stroke-width="1.8"/><line x1="190.8" y1="553.7" x2="190.8" y2="559.3" stroke-width="1.8"/><line x1="210.2" y1="553.7" x2="210.2" y2="559.3" stroke-width="1.8"/><line x1="250.3" y1="553.7" x2="250.3" y2="559.3" stroke-width="1.8"/><line x1="289.3" y1="553.7" x2="289.3" y2="559.3" stroke-width="1.8"/><line x1="327.3" y1="553.7" x2="327.3" y2="559.3" stroke-width="1.8"/><line x1="222.3" y1="553.7" x2="222.3" y2="558.0"/><line x1="229.4" y1="553.7" x2="229.4" y2="558.0"/><line x1="234.4" y1="553.7" x2="234.4" y2="558.0"/><line x1="238.2" y1="553.7" x2="238.2" y2="558.0"/><line x1="241.4" y1="553.7" x2="241.4" y2="558.0"/><line x1="244.1" y1="553.7" x2="244.1" y2="558.0"/><line x1="246.4" y1="553.7" x2="246.4" y2="558.0"/><line x1="248.5" y1="553.7" x2="248.5" y2="558.0"/><line x1="262.0" y1="553.7" x2="262.0" y2="558.0"/><line x1="268.9" y1="553.7" x2="268.9" y2="558.0"/><line x1="273.8" y1="553.7" x2="273.8" y2="558.0"/><line x1="277.6" y1="553.7" x2="277.6" y2="558.0"/><line x1="280.6" y1="553.7" x2="280.6" y2="558.0"/><line x1="283.3" y1="553.7" x2="283.3" y2="558.0"/><line x1="285.5" y1="553.7" x2="285.5" y2="558.0"/><line x1="287.5" y1="553.7" x2="287.5" y2="558.0"/><line x1="300.7" y1="553.7" x2="300.7" y2="558.0"/><line x1="307.4" y1="553.7" x2="307.4" y2="558.0"/><line x1="312.2" y1="553.7" x2="312.2" y2="558.0"/><line x1="315.9" y1="553.7" x2="315.9" y2="558.0"/><line x1="318.9" y1="553.7" x2="318.9" y2="558.0"/><line x1="321.4" y1="553.7" x2="321.4" y2="558.0"/><line x1="323.6" y1="553.7" x2="323.6" y2="558.0"/><line x1="325.6" y1="553.7" x2="325.6" y2="558.0"/><line x1="338.7" y1="553.7" x2="338.7" y2="558.0"/><line x1="177.0" y1="553.7" x2="177.0" y2="557.1"/><line x1="178.6" y1="553.7" x2="178.6" y2="557.1"/><line x1="180.1" y1="553.7" x2="180.1" y2="557.1"/><line x1="181.6" y1="553.7" x2="181.6" y2="557.1"/><line x1="183.2" y1="553.7" x2="183.2" y2="557.1"/><line x1="184.7" y1="553.7" x2="184.7" y2="557.1"/><line x1="186.2" y1="553.7" x2="186.2" y2="557.1"/><line x1="187.7" y1="553.7" x2="187.7" y2="557.1"/><line x1="189.3" y1="553.7" x2="189.3" y2="557.1"/><line x1="196.7" y1="553.7" x2="196.7" y2="557.1"/><line x1="200.1" y1="553.7" x2="200.1" y2="557.1"/><line x1="202.5" y1="553.7" x2="202.5" y2="557.1"/><line x1="204.4" y1="553.7" x2="204.4" y2="557.1"/><line x1="205.9" y1="553.7" x2="205.9" y2="557.1"/><line x1="207.2" y1="553.7" x2="207.2" y2="557.1"/><line x1="208.4" y1="553.7" x2="208.4" y2="557.1"/><line x1="209.4" y1="553.7" x2="209.4" y2="557.1"/></g>
<g transform="translate(350,386)" stroke-width="2.4" stroke-linejoin="round" stroke-linecap="round"><path d="M2.6,51 L21.2,51 L32.7,49.9 L40.9,49 L45.8,47.7 L49,46.6 L51.5,46.1 L53.1,44.1 L54.8,41.7 L56.4,36 L57.2,31.9 L58,26.2 L59.2,22.9 L60.1,16.3 L61.3,10.6 L62.9,7.4 L64.6,4.9 L65.4,6.5 L67,7.4 L68.3,9 L69.5,13.1 L70.2,20 L71.1,25.2 L71.9,30.4 L73.2,34.7 L74.1,38.2 L74.9,41.6 L75.8,44.2 L80,47 L85,48.5 L92.7,50.3 L105,50.3 L114.4,50 L117.7,51 L167.6,51 L167.6,51.8 L2.6,51.8 Z" fill="#fff"/><path d="M2.6,51 L21.2,51 L32.7,49.9 L40.9,49 L45.8,47.7 L49,46.6 L51.5,46.1 L53.1,44.1 L54.8,41.7 L56.4,36 L57.2,31.9 L58,26.2 L59.2,22.9 L60.1,16.3 L61.3,10.6 L62.9,7.4 L64.6,4.9 L65.4,6.5 L67,7.4 L68.3,9 L69.5,13.1 L70.2,20 L71.1,25.2 L71.9,30.4 L73.2,34.7 L74.1,38.2 L74.9,41.6 L75.8,44.2 L80,47 L85,48.5 L92.7,50.3 L105,50.3 L114.4,50 L117.7,51 L167.6,51" fill="none" stroke="#e01820"/><path d="M2.6,74.9 L29.4,74.9 L37.6,72.7 L44.1,70.6 L49,68.6 L53.9,66.2 L57.2,64.1 L60.5,61.3 L62.9,60.5 L64.6,62.1 L65,62.4 L66.7,63.7 L68.5,60.7 L69.8,58.1 L71.1,54.6 L72.4,57.2 L73.7,56.3 L74.9,50.3 L75.8,46 L77.1,41.6 L78.4,37.3 L79.7,33.8 L81,30.4 L82.3,29.5 L83.6,28.2 L84.5,30.4 L85.3,31.2 L86.2,32.1 L87.1,28.2 L87.7,28.7 L88.4,33 L89.2,37.3 L90.1,41.6 L91,46 L91.8,48.5 L92.7,50.3 L94,54.6 L95.3,58.1 L96.6,61.5 L97.9,65 L99.2,68.4 L100.5,71 L102,72.5 L104.6,73.2 L109.5,73.9 L117.7,74.9 L167.6,74.9 L167.6,75.7 L2.6,75.7 Z" fill="#fff"/><path d="M2.6,74.9 L29.4,74.9 L37.6,72.7 L44.1,70.6 L49,68.6 L53.9,66.2 L57.2,64.1 L60.5,61.3 L62.9,60.5 L64.6,62.1 L65,62.4 L66.7,63.7 L68.5,60.7 L69.8,58.1 L71.1,54.6 L72.4,57.2 L73.7,56.3 L74.9,50.3 L75.8,46 L77.1,41.6 L78.4,37.3 L79.7,33.8 L81,30.4 L82.3,29.5 L83.6,28.2 L84.5,30.4 L85.3,31.2 L86.2,32.1 L87.1,28.2 L87.7,28.7 L88.4,33 L89.2,37.3 L90.1,41.6 L91,46 L91.8,48.5 L92.7,50.3 L94,54.6 L95.3,58.1 L96.6,61.5 L97.9,65 L99.2,68.4 L100.5,71 L102,72.5 L104.6,73.2 L109.5,73.9 L117.7,74.9 L167.6,74.9" fill="none" stroke="#ec8820"/><path d="M2.6,97.3 L21.2,97.3 L32.7,96.8 L37.6,95.1 L42.5,93.5 L45.8,92.4 L49,90.7 L52.3,88.3 L55,86.9 L56.3,85.6 L57.6,82.6 L58.9,81.7 L60.2,82.2 L61.5,82.6 L62.8,83 L63.7,82.6 L67,80 L69.5,79.5 L71.4,78.7 L72.3,77 L73.2,75.2 L74,73.5 L74.9,71.8 L75.4,70 L76.2,65.8 L77.1,62.4 L78,60.7 L78.8,59.8 L79.7,57.2 L80.6,55.5 L81.4,54.6 L82.3,52.9 L83.2,51.6 L84,52.9 L84.9,54.6 L85.8,56.3 L86.6,53.7 L87.3,52.9 L88,56.3 L88.8,62 L89.6,67.5 L90.4,72 L91.3,75.2 L92.2,77 L93.1,79.6 L93.9,82.2 L94.8,84.8 L95.6,88.3 L97.3,92.4 L99.7,95.1 L103,96.8 L111.2,97.3 L167.6,97.7 L167.6,98.5 L2.6,98.5 Z" fill="#fff"/><path d="M2.6,97.3 L21.2,97.3 L32.7,96.8 L37.6,95.1 L42.5,93.5 L45.8,92.4 L49,90.7 L52.3,88.3 L55,86.9 L56.3,85.6 L57.6,82.6 L58.9,81.7 L60.2,82.2 L61.5,82.6 L62.8,83 L63.7,82.6 L67,80 L69.5,79.5 L71.4,78.7 L72.3,77 L73.2,75.2 L74,73.5 L74.9,71.8 L75.4,70 L76.2,65.8 L77.1,62.4 L78,60.7 L78.8,59.8 L79.7,57.2 L80.6,55.5 L81.4,54.6 L82.3,52.9 L83.2,51.6 L84,52.9 L84.9,54.6 L85.8,56.3 L86.6,53.7 L87.3,52.9 L88,56.3 L88.8,62 L89.6,67.5 L90.4,72 L91.3,75.2 L92.2,77 L93.1,79.6 L93.9,82.2 L94.8,84.8 L95.6,88.3 L97.3,92.4 L99.7,95.1 L103,96.8 L111.2,97.3 L167.6,97.7" fill="none" stroke="#3c2814"/><path d="M2.6,121.3 L21.2,121.3 L32.7,120.1 L39.2,119.3 L44.1,117.7 L49,116.1 L52.3,114.4 L54.8,112 L55,110.7 L56.3,107.3 L57.6,102.9 L58.9,98.6 L60.2,95.1 L61.5,91.7 L62.8,90.8 L63.7,87.4 L64.5,83 L65.4,79.6 L66.2,77.8 L67.1,76.1 L68,74.8 L68.8,77 L69.7,79.6 L70.6,81.3 L71.4,81.7 L72.3,82.6 L73.2,84.8 L74,88.2 L74.9,91.7 L75.8,95.1 L76.6,96.9 L77.5,97.7 L78.4,98.6 L79.2,99.5 L80.1,102.1 L81,104.7 L81.8,106.4 L82.7,107.5 L84.2,110.7 L86,112.5 L87.7,113.8 L89.4,115.1 L91.1,116.4 L92.9,116.8 L94.6,116.8 L96.3,117.7 L98.1,118.5 L101.3,119.7 L106.2,120.6 L111.2,121.3 L167.6,121.3 L167.6,122.1 L2.6,122.1 Z" fill="#fff"/><path d="M2.6,121.3 L21.2,121.3 L32.7,120.1 L39.2,119.3 L44.1,117.7 L49,116.1 L52.3,114.4 L54.8,112 L55,110.7 L56.3,107.3 L57.6,102.9 L58.9,98.6 L60.2,95.1 L61.5,91.7 L62.8,90.8 L63.7,87.4 L64.5,83 L65.4,79.6 L66.2,77.8 L67.1,76.1 L68,74.8 L68.8,77 L69.7,79.6 L70.6,81.3 L71.4,81.7 L72.3,82.6 L73.2,84.8 L74,88.2 L74.9,91.7 L75.8,95.1 L76.6,96.9 L77.5,97.7 L78.4,98.6 L79.2,99.5 L80.1,102.1 L81,104.7 L81.8,106.4 L82.7,107.5 L84.2,110.7 L86,112.5 L87.7,113.8 L89.4,115.1 L91.1,116.4 L92.9,116.8 L94.6,116.8 L96.3,117.7 L98.1,118.5 L101.3,119.7 L106.2,120.6 L111.2,121.3 L167.6,121.3" fill="none" stroke="#700508"/><path d="M2.6,144.7 L24.5,144.7 L32.7,143.5 L39.2,141.9 L44.1,141.4 L49,139.8 L52.3,138.1 L54.8,135.7 L56.4,132.4 L58,129.1 L59.7,125.9 L60.9,122 L61.7,117.7 L62.6,113.3 L63.2,110.7 L64.5,106.4 L65.8,102.9 L67.1,98.6 L68,97.3 L68.8,100.3 L69.7,105.5 L70.6,108.1 L71.4,105.5 L72.3,103.8 L73.6,103.4 L74.5,105.1 L75.8,103.8 L76.6,102.1 L77.5,105.5 L78.4,108.1 L79.4,110.5 L80.8,112.5 L82.5,115.9 L84.2,120.2 L86,124.6 L87.7,128.9 L89.4,132.4 L91.1,135 L92.9,136.7 L94.6,138.4 L96.4,140.2 L99.7,142.5 L104.6,144.2 L117.7,145 L167.6,145 L167.6,145.8 L2.6,145.8 Z" fill="#fff"/><path d="M2.6,144.7 L24.5,144.7 L32.7,143.5 L39.2,141.9 L44.1,141.4 L49,139.8 L52.3,138.1 L54.8,135.7 L56.4,132.4 L58,129.1 L59.7,125.9 L60.9,122 L61.7,117.7 L62.6,113.3 L63.2,110.7 L64.5,106.4 L65.8,102.9 L67.1,98.6 L68,97.3 L68.8,100.3 L69.7,105.5 L70.6,108.1 L71.4,105.5 L72.3,103.8 L73.6,103.4 L74.5,105.1 L75.8,103.8 L76.6,102.1 L77.5,105.5 L78.4,108.1 L79.4,110.5 L80.8,112.5 L82.5,115.9 L84.2,120.2 L86,124.6 L87.7,128.9 L89.4,132.4 L91.1,135 L92.9,136.7 L94.6,138.4 L96.4,140.2 L99.7,142.5 L104.6,144.2 L117.7,145 L167.6,145" fill="none" stroke="#d08a55"/><path d="M2.6,168.4 L16.3,168.4 L29.4,167.5 L36,165.1 L40.9,163.5 L45.8,161.8 L49,160.2 L52.3,156.9 L54.8,153.6 L56.4,150.4 L58,147.1 L59.7,142.2 L60.9,138.4 L61.7,135 L62.6,132.4 L63.5,129.8 L64.8,128.5 L66.1,126.3 L67.4,124.6 L68.2,122.8 L69.1,122.4 L69.9,124.1 L70.8,125.9 L72.1,126.7 L73.4,127.6 L74.3,128.9 L75.1,127.6 L76,127.2 L76.9,129.8 L77.7,134.1 L78.6,138.4 L79.2,140.6 L79.9,135 L80.8,134.1 L81.6,135 L82.5,135.8 L83.4,138.4 L84.2,141 L85.1,139.3 L86,139.7 L86.8,141.4 L87.7,143.6 L88.5,147.1 L89.4,149.2 L90.3,149.7 L91.1,150.5 L92,151.4 L92.9,154 L93.7,156.1 L94.6,157.4 L96.4,160.2 L98.1,162.6 L99.7,164.3 L101.3,165.1 L103.8,166.4 L107.1,167.5 L111.2,168 L167.6,168 L167.6,168.8 L2.6,168.8 Z" fill="#fff"/><path d="M2.6,168.4 L16.3,168.4 L29.4,167.5 L36,165.1 L40.9,163.5 L45.8,161.8 L49,160.2 L52.3,156.9 L54.8,153.6 L56.4,150.4 L58,147.1 L59.7,142.2 L60.9,138.4 L61.7,135 L62.6,132.4 L63.5,129.8 L64.8,128.5 L66.1,126.3 L67.4,124.6 L68.2,122.8 L69.1,122.4 L69.9,124.1 L70.8,125.9 L72.1,126.7 L73.4,127.6 L74.3,128.9 L75.1,127.6 L76,127.2 L76.9,129.8 L77.7,134.1 L78.6,138.4 L79.2,140.6 L79.9,135 L80.8,134.1 L81.6,135 L82.5,135.8 L83.4,138.4 L84.2,141 L85.1,139.3 L86,139.7 L86.8,141.4 L87.7,143.6 L88.5,147.1 L89.4,149.2 L90.3,149.7 L91.1,150.5 L92,151.4 L92.9,154 L93.7,156.1 L94.6,157.4 L96.4,160.2 L98.1,162.6 L99.7,164.3 L101.3,165.1 L103.8,166.4 L107.1,167.5 L111.2,168 L167.6,168" fill="none" stroke="#000000"/></g>
<rect x="350.9" y="386.7" width="167.9" height="167.0" fill="none" stroke="#000" stroke-width="1.9"/>
<g stroke="#000" stroke-width="1.3"><line x1="352.4" y1="553.7" x2="352.4" y2="559.3" stroke-width="1.8"/><line x1="367.7" y1="553.7" x2="367.7" y2="559.3" stroke-width="1.8"/><line x1="387.1" y1="553.7" x2="387.1" y2="559.3" stroke-width="1.8"/><line x1="427.2" y1="553.7" x2="427.2" y2="559.3" stroke-width="1.8"/><line x1="466.2" y1="553.7" x2="466.2" y2="559.3" stroke-width="1.8"/><line x1="504.2" y1="553.7" x2="504.2" y2="559.3" stroke-width="1.8"/><line x1="399.2" y1="553.7" x2="399.2" y2="558.0"/><line x1="406.3" y1="553.7" x2="406.3" y2="558.0"/><line x1="411.3" y1="553.7" x2="411.3" y2="558.0"/><line x1="415.1" y1="553.7" x2="415.1" y2="558.0"/><line x1="418.3" y1="553.7" x2="418.3" y2="558.0"/><line x1="421.0" y1="553.7" x2="421.0" y2="558.0"/><line x1="423.3" y1="553.7" x2="423.3" y2="558.0"/><line x1="425.4" y1="553.7" x2="425.4" y2="558.0"/><line x1="438.9" y1="553.7" x2="438.9" y2="558.0"/><line x1="445.8" y1="553.7" x2="445.8" y2="558.0"/><line x1="450.7" y1="553.7" x2="450.7" y2="558.0"/><line x1="454.5" y1="553.7" x2="454.5" y2="558.0"/><line x1="457.5" y1="553.7" x2="457.5" y2="558.0"/><line x1="460.2" y1="553.7" x2="460.2" y2="558.0"/><line x1="462.4" y1="553.7" x2="462.4" y2="558.0"/><line x1="464.4" y1="553.7" x2="464.4" y2="558.0"/><line x1="477.6" y1="553.7" x2="477.6" y2="558.0"/><line x1="484.3" y1="553.7" x2="484.3" y2="558.0"/><line x1="489.1" y1="553.7" x2="489.1" y2="558.0"/><line x1="492.8" y1="553.7" x2="492.8" y2="558.0"/><line x1="495.8" y1="553.7" x2="495.8" y2="558.0"/><line x1="498.3" y1="553.7" x2="498.3" y2="558.0"/><line x1="500.5" y1="553.7" x2="500.5" y2="558.0"/><line x1="502.5" y1="553.7" x2="502.5" y2="558.0"/><line x1="515.6" y1="553.7" x2="515.6" y2="558.0"/><line x1="353.9" y1="553.7" x2="353.9" y2="557.1"/><line x1="355.5" y1="553.7" x2="355.5" y2="557.1"/><line x1="357.0" y1="553.7" x2="357.0" y2="557.1"/><line x1="358.5" y1="553.7" x2="358.5" y2="557.1"/><line x1="360.1" y1="553.7" x2="360.1" y2="557.1"/><line x1="361.6" y1="553.7" x2="361.6" y2="557.1"/><line x1="363.1" y1="553.7" x2="363.1" y2="557.1"/><line x1="364.6" y1="553.7" x2="364.6" y2="557.1"/><line x1="366.2" y1="553.7" x2="366.2" y2="557.1"/><line x1="373.6" y1="553.7" x2="373.6" y2="557.1"/><line x1="377.0" y1="553.7" x2="377.0" y2="557.1"/><line x1="379.4" y1="553.7" x2="379.4" y2="557.1"/><line x1="381.3" y1="553.7" x2="381.3" y2="557.1"/><line x1="382.8" y1="553.7" x2="382.8" y2="557.1"/><line x1="384.1" y1="553.7" x2="384.1" y2="557.1"/><line x1="385.3" y1="553.7" x2="385.3" y2="557.1"/><line x1="386.3" y1="553.7" x2="386.3" y2="557.1"/></g>
<text transform="translate(210.25,575.6) scale(1.06,1)" font-size="13" text-anchor="middle">10</text>
<text transform="translate(217.65,571.3) scale(1.06,1)" font-size="7.6">2</text>
<text transform="translate(289.00,575.6) scale(1.06,1)" font-size="13" text-anchor="middle">10</text>
<text transform="translate(296.40,571.3) scale(1.06,1)" font-size="7.6">4</text>
<text transform="translate(387.15,575.6) scale(1.06,1)" font-size="13" text-anchor="middle">10</text>
<text transform="translate(394.55,571.3) scale(1.06,1)" font-size="7.6">2</text>
<text transform="translate(465.90,575.6) scale(1.06,1)" font-size="13" text-anchor="middle">10</text>
<text transform="translate(473.30,571.3) scale(1.06,1)" font-size="7.6">4</text>
</svg></body></html>
